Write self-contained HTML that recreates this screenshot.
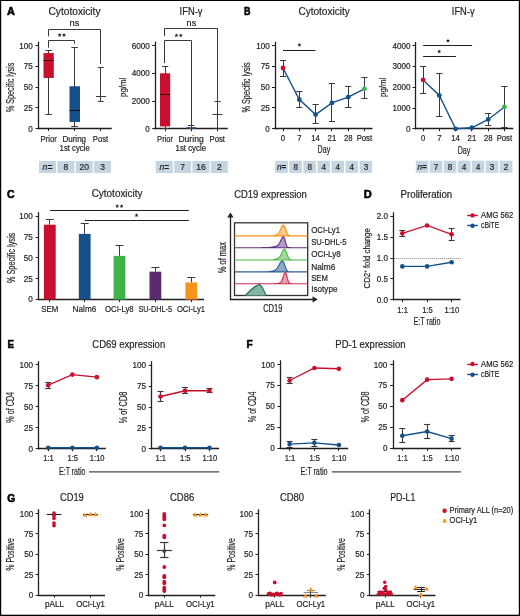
<!DOCTYPE html>
<html><head><meta charset="utf-8"><style>
html,body{margin:0;padding:0;background:#fff;}
svg{display:block;will-change:transform;font-family:"Liberation Sans", sans-serif;}
</style></head><body>
<svg width="520" height="616" viewBox="0 0 520 616">
<rect x="0" y="0" width="520" height="616" fill="#fff"/>
<rect x="0" y="0" width="520" height="1" fill="#000"/><rect x="0" y="0" width="1.2" height="616" fill="#000"/><rect x="518.8" y="0" width="1.2" height="616" fill="#000"/><rect x="0" y="614.7" width="520" height="1.3" fill="#000"/>
<text x="7.1" y="15" font-size="11" text-anchor="start" font-weight="bold" fill="#000" textLength="7.9" lengthAdjust="spacingAndGlyphs" stroke="#000" stroke-width="0.55">A</text>
<text x="48.5" y="15" font-size="10.4" text-anchor="start" font-weight="normal" fill="#231f20" textLength="52" lengthAdjust="spacingAndGlyphs" stroke="#231f20" stroke-width="0.2">Cytotoxicity</text>
<line x1="38.5" y1="41.7" x2="38.5" y2="129.2" stroke="#231f20" stroke-width="1.3"/>
<line x1="35.5" y1="128.5" x2="38.5" y2="128.5" stroke="#231f20" stroke-width="1"/>
<text x="32.8" y="131.55" font-size="8.3" text-anchor="end" font-weight="normal" fill="#231f20" textLength="4.52" lengthAdjust="spacingAndGlyphs" stroke="#231f20" stroke-width="0.2">0</text>
<line x1="35.5" y1="107.5" x2="38.5" y2="107.5" stroke="#231f20" stroke-width="1"/>
<text x="32.8" y="110.8" font-size="8.3" text-anchor="end" font-weight="normal" fill="#231f20" textLength="9.05" lengthAdjust="spacingAndGlyphs" stroke="#231f20" stroke-width="0.2">25</text>
<line x1="35.5" y1="87.5" x2="38.5" y2="87.5" stroke="#231f20" stroke-width="1"/>
<text x="32.8" y="90.05" font-size="8.3" text-anchor="end" font-weight="normal" fill="#231f20" textLength="9.05" lengthAdjust="spacingAndGlyphs" stroke="#231f20" stroke-width="0.2">50</text>
<line x1="35.5" y1="66.5" x2="38.5" y2="66.5" stroke="#231f20" stroke-width="1"/>
<text x="32.8" y="69.3" font-size="8.3" text-anchor="end" font-weight="normal" fill="#231f20" textLength="9.05" lengthAdjust="spacingAndGlyphs" stroke="#231f20" stroke-width="0.2">75</text>
<line x1="35.5" y1="45.5" x2="38.5" y2="45.5" stroke="#231f20" stroke-width="1"/>
<text x="32.8" y="48.55" font-size="8.3" text-anchor="end" font-weight="normal" fill="#231f20" textLength="13.57" lengthAdjust="spacingAndGlyphs" stroke="#231f20" stroke-width="0.2">100</text>
<line x1="37.9" y1="128.5" x2="111.7" y2="128.5" stroke="#231f20" stroke-width="1.3"/>
<line x1="48.5" y1="128.6" x2="48.5" y2="131.1" stroke="#231f20" stroke-width="1"/>
<line x1="74.5" y1="128.6" x2="74.5" y2="131.1" stroke="#231f20" stroke-width="1"/>
<line x1="100.5" y1="128.6" x2="100.5" y2="131.1" stroke="#231f20" stroke-width="1"/>
<text transform="translate(14.1,87.45) rotate(-90)" x="0" y="0" font-size="10" text-anchor="middle" font-weight="normal" fill="#231f20" textLength="49.3" lengthAdjust="spacingAndGlyphs" stroke="#231f20" stroke-width="0.2">% Specific lysis</text>
<text x="40.6" y="141.6" font-size="8.6" text-anchor="start" font-weight="normal" fill="#231f20" textLength="16.3" lengthAdjust="spacingAndGlyphs" stroke="#231f20" stroke-width="0.2">Prior</text>
<text x="62.4" y="141.6" font-size="8.6" text-anchor="start" font-weight="normal" fill="#231f20" textLength="23.7" lengthAdjust="spacingAndGlyphs" stroke="#231f20" stroke-width="0.2">During</text>
<text x="92.8" y="141.6" font-size="8.6" text-anchor="start" font-weight="normal" fill="#231f20" textLength="15.3" lengthAdjust="spacingAndGlyphs" stroke="#231f20" stroke-width="0.2">Post</text>
<text x="59.6" y="151.1" font-size="8.6" text-anchor="start" font-weight="normal" fill="#231f20" textLength="30.2" lengthAdjust="spacingAndGlyphs" stroke="#231f20" stroke-width="0.2">1st cycle</text>
<path d="M48.5,36.4 V29.5 H100.5 V63.9" fill="none" stroke="#3a3a3a" stroke-width="1"/>
<path d="M48.5,47.7 V40.5 H74.5 V43.8" fill="none" stroke="#3a3a3a" stroke-width="1"/>
<text x="69.5" y="26" font-size="9" text-anchor="start" font-weight="normal" fill="#231f20" textLength="9.8" lengthAdjust="spacingAndGlyphs" stroke="#231f20" stroke-width="0.2">ns</text>
<polygon points="59.6,32.9 60.14,34.35 61.69,34.42 60.48,35.39 60.89,36.88 59.6,36.02 58.31,36.88 58.72,35.39 57.51,34.42 59.06,34.35" fill="#231f20"/>
<polygon points="64,32.9 64.54,34.35 66.09,34.42 64.88,35.39 65.29,36.88 64,36.02 62.71,36.88 63.12,35.39 61.91,34.42 63.46,34.35" fill="#231f20"/>
<line x1="48.5" y1="50.58" x2="48.5" y2="114.49" stroke="#3a3a3a" stroke-width="1"/>
<line x1="45.35" y1="50.5" x2="51.85" y2="50.5" stroke="#3a3a3a" stroke-width="1"/>
<line x1="45.35" y1="114.5" x2="51.85" y2="114.5" stroke="#3a3a3a" stroke-width="1"/>
<rect x="43.5" y="53.07" width="10.3" height="24.9" fill="#c8102e" stroke="none" stroke-width="0"/>
<line x1="43.5" y1="60.5" x2="53.8" y2="60.5" stroke="#2a0a0a" stroke-width="1"/>
<line x1="74.5" y1="47.26" x2="74.5" y2="126.94" stroke="#3a3a3a" stroke-width="1"/>
<line x1="71.35" y1="47.5" x2="77.85" y2="47.5" stroke="#3a3a3a" stroke-width="1"/>
<line x1="71.35" y1="126.5" x2="77.85" y2="126.5" stroke="#3a3a3a" stroke-width="1"/>
<rect x="69.5" y="86.27" width="10.5" height="35.69" fill="#165089" stroke="none" stroke-width="0"/>
<line x1="69.5" y1="110.5" x2="80" y2="110.5" stroke="#0a0f1a" stroke-width="1"/>
<line x1="100.5" y1="67.9" x2="100.5" y2="101.4" stroke="#3a3a3a" stroke-width="1"/>
<line x1="97.9" y1="67.5" x2="103.7" y2="67.5" stroke="#3a3a3a" stroke-width="1"/>
<line x1="97.9" y1="101.5" x2="103.7" y2="101.5" stroke="#3a3a3a" stroke-width="1"/>
<line x1="96" y1="96.5" x2="106" y2="96.5" stroke="#3a3a3a" stroke-width="1"/>
<text x="179.6" y="15.1" font-size="10.4" text-anchor="start" font-weight="normal" fill="#231f20" textLength="22.9" lengthAdjust="spacingAndGlyphs" stroke="#231f20" stroke-width="0.2">IFN-γ</text>
<line x1="155.5" y1="41.6" x2="155.5" y2="129.4" stroke="#231f20" stroke-width="1.3"/>
<line x1="152.2" y1="128.5" x2="155.2" y2="128.5" stroke="#231f20" stroke-width="1"/>
<text x="149.8" y="131.75" font-size="8.3" text-anchor="end" font-weight="normal" fill="#231f20" textLength="4.52" lengthAdjust="spacingAndGlyphs" stroke="#231f20" stroke-width="0.2">0</text>
<line x1="152.2" y1="101.5" x2="155.2" y2="101.5" stroke="#231f20" stroke-width="1"/>
<text x="149.8" y="104.05" font-size="8.3" text-anchor="end" font-weight="normal" fill="#231f20" textLength="18.09" lengthAdjust="spacingAndGlyphs" stroke="#231f20" stroke-width="0.2">2000</text>
<line x1="152.2" y1="73.5" x2="155.2" y2="73.5" stroke="#231f20" stroke-width="1"/>
<text x="149.8" y="76.35" font-size="8.3" text-anchor="end" font-weight="normal" fill="#231f20" textLength="18.09" lengthAdjust="spacingAndGlyphs" stroke="#231f20" stroke-width="0.2">4000</text>
<line x1="152.2" y1="45.5" x2="155.2" y2="45.5" stroke="#231f20" stroke-width="1"/>
<text x="149.8" y="48.65" font-size="8.3" text-anchor="end" font-weight="normal" fill="#231f20" textLength="18.09" lengthAdjust="spacingAndGlyphs" stroke="#231f20" stroke-width="0.2">6000</text>
<line x1="154.6" y1="128.5" x2="227.8" y2="128.5" stroke="#231f20" stroke-width="1.3"/>
<line x1="165.5" y1="128.8" x2="165.5" y2="131.3" stroke="#231f20" stroke-width="1"/>
<line x1="191.5" y1="128.8" x2="191.5" y2="131.3" stroke="#231f20" stroke-width="1"/>
<line x1="217.5" y1="128.8" x2="217.5" y2="131.3" stroke="#231f20" stroke-width="1"/>
<text transform="translate(125.5,87.35) rotate(-90)" x="0" y="0" font-size="9.8" text-anchor="middle" font-weight="normal" fill="#231f20" textLength="19.3" lengthAdjust="spacingAndGlyphs" stroke="#231f20" stroke-width="0.2">pg/ml</text>
<text x="157.1" y="141.6" font-size="8.6" text-anchor="start" font-weight="normal" fill="#231f20" textLength="16" lengthAdjust="spacingAndGlyphs" stroke="#231f20" stroke-width="0.2">Prior</text>
<text x="178.4" y="141.6" font-size="8.6" text-anchor="start" font-weight="normal" fill="#231f20" textLength="25.3" lengthAdjust="spacingAndGlyphs" stroke="#231f20" stroke-width="0.2">During</text>
<text x="209.5" y="141.6" font-size="8.6" text-anchor="start" font-weight="normal" fill="#231f20" textLength="15.5" lengthAdjust="spacingAndGlyphs" stroke="#231f20" stroke-width="0.2">Post</text>
<text x="175.6" y="151.1" font-size="8.6" text-anchor="start" font-weight="normal" fill="#231f20" textLength="30.4" lengthAdjust="spacingAndGlyphs" stroke="#231f20" stroke-width="0.2">1st cycle</text>
<path d="M164.5,36.2 V28.5 H217.5 V101.1" fill="none" stroke="#3a3a3a" stroke-width="1"/>
<path d="M164.5,63.1 V40.5 H191.5 V125" fill="none" stroke="#3a3a3a" stroke-width="1"/>
<text x="186.6" y="26.1" font-size="9" text-anchor="start" font-weight="normal" fill="#231f20" textLength="9.6" lengthAdjust="spacingAndGlyphs" stroke="#231f20" stroke-width="0.2">ns</text>
<polygon points="176.4,33.2 176.94,34.65 178.49,34.72 177.28,35.69 177.69,37.18 176.4,36.32 175.11,37.18 175.52,35.69 174.31,34.72 175.86,34.65" fill="#231f20"/>
<polygon points="180.8,33.2 181.34,34.65 182.89,34.72 181.68,35.69 182.09,37.18 180.8,36.32 179.51,37.18 179.92,35.69 178.71,34.72 180.26,34.65" fill="#231f20"/>
<line x1="165.5" y1="66.8" x2="165.5" y2="128.3" stroke="#3a3a3a" stroke-width="1"/>
<line x1="162.1" y1="66.5" x2="168.3" y2="66.5" stroke="#3a3a3a" stroke-width="1"/>
<line x1="162.1" y1="128.5" x2="168.3" y2="128.5" stroke="#3a3a3a" stroke-width="1"/>
<rect x="160" y="73.3" width="10.2" height="53.1" fill="#c8102e" stroke="none" stroke-width="0"/>
<line x1="160" y1="94.5" x2="170.2" y2="94.5" stroke="#2a0a0a" stroke-width="1"/>
<line x1="191.5" y1="125.2" x2="191.5" y2="128.6" stroke="#3a3a3a" stroke-width="1"/>
<line x1="188.05" y1="125.5" x2="194.35" y2="125.5" stroke="#3a3a3a" stroke-width="1"/>
<line x1="188.05" y1="128.5" x2="194.35" y2="128.5" stroke="#3a3a3a" stroke-width="1"/>
<rect x="186.5" y="127.2" width="9.6" height="1.4" fill="#165089" stroke="none" stroke-width="0"/>
<line x1="217.5" y1="101.1" x2="217.5" y2="128.8" stroke="#3a3a3a" stroke-width="1"/>
<line x1="214.5" y1="101.5" x2="220.7" y2="101.5" stroke="#3a3a3a" stroke-width="1"/>
<line x1="212.4" y1="114.5" x2="222.5" y2="114.5" stroke="#3a3a3a" stroke-width="1"/>
<line x1="214.5" y1="128.5" x2="220.7" y2="128.5" stroke="#3a3a3a" stroke-width="1"/>
<rect x="39" y="161" width="17" height="12" fill="#c5d6e2" stroke="none" stroke-width="0"/>
<text x="47.5" y="170.2" font-size="8.55" text-anchor="middle" fill="#231f20" stroke="#231f20" stroke-width="0.2"><tspan font-style="italic">n</tspan><tspan font-weight="bold">=</tspan></text>
<rect x="57.35" y="161" width="17" height="12" fill="#c5d6e2" stroke="none" stroke-width="0"/>
<text x="65.85" y="170.2" font-size="9" text-anchor="middle" font-weight="normal" fill="#231f20" textLength="4.75" lengthAdjust="spacingAndGlyphs" stroke="#231f20" stroke-width="0.2">8</text>
<rect x="75.7" y="161" width="17" height="12" fill="#c5d6e2" stroke="none" stroke-width="0"/>
<text x="84.2" y="170.2" font-size="9" text-anchor="middle" font-weight="normal" fill="#231f20" textLength="9.51" lengthAdjust="spacingAndGlyphs" stroke="#231f20" stroke-width="0.2">20</text>
<rect x="94.05" y="161" width="17" height="12" fill="#c5d6e2" stroke="none" stroke-width="0"/>
<text x="102.55" y="170.2" font-size="9" text-anchor="middle" font-weight="normal" fill="#231f20" textLength="4.75" lengthAdjust="spacingAndGlyphs" stroke="#231f20" stroke-width="0.2">3</text>
<rect x="155.8" y="161" width="17" height="12" fill="#c5d6e2" stroke="none" stroke-width="0"/>
<text x="164.3" y="170.2" font-size="8.55" text-anchor="middle" fill="#231f20" stroke="#231f20" stroke-width="0.2"><tspan font-style="italic">n</tspan><tspan font-weight="bold">=</tspan></text>
<rect x="174.15" y="161" width="17" height="12" fill="#c5d6e2" stroke="none" stroke-width="0"/>
<text x="182.65" y="170.2" font-size="9" text-anchor="middle" font-weight="normal" fill="#231f20" textLength="4.75" lengthAdjust="spacingAndGlyphs" stroke="#231f20" stroke-width="0.2">7</text>
<rect x="192.5" y="161" width="17" height="12" fill="#c5d6e2" stroke="none" stroke-width="0"/>
<text x="201" y="170.2" font-size="9" text-anchor="middle" font-weight="normal" fill="#231f20" textLength="9.51" lengthAdjust="spacingAndGlyphs" stroke="#231f20" stroke-width="0.2">16</text>
<rect x="210.85" y="161" width="17" height="12" fill="#c5d6e2" stroke="none" stroke-width="0"/>
<text x="219.35" y="170.2" font-size="9" text-anchor="middle" font-weight="normal" fill="#231f20" textLength="4.75" lengthAdjust="spacingAndGlyphs" stroke="#231f20" stroke-width="0.2">2</text>
<text x="244" y="14.8" font-size="11" text-anchor="start" font-weight="bold" fill="#000" textLength="6.5" lengthAdjust="spacingAndGlyphs" stroke="#000" stroke-width="0.55">B</text>
<text x="298.4" y="15" font-size="10.4" text-anchor="start" font-weight="normal" fill="#231f20" textLength="51.3" lengthAdjust="spacingAndGlyphs" stroke="#231f20" stroke-width="0.2">Cytotoxicity</text>
<line x1="275.5" y1="41.7" x2="275.5" y2="129.35" stroke="#231f20" stroke-width="1.3"/>
<line x1="272" y1="128.5" x2="275" y2="128.5" stroke="#231f20" stroke-width="1"/>
<text x="269.8" y="131.7" font-size="8.3" text-anchor="end" font-weight="normal" fill="#231f20" textLength="4.52" lengthAdjust="spacingAndGlyphs" stroke="#231f20" stroke-width="0.2">0</text>
<line x1="272" y1="107.5" x2="275" y2="107.5" stroke="#231f20" stroke-width="1"/>
<text x="269.8" y="110.9" font-size="8.3" text-anchor="end" font-weight="normal" fill="#231f20" textLength="9.05" lengthAdjust="spacingAndGlyphs" stroke="#231f20" stroke-width="0.2">25</text>
<line x1="272" y1="87.5" x2="275" y2="87.5" stroke="#231f20" stroke-width="1"/>
<text x="269.8" y="90.1" font-size="8.3" text-anchor="end" font-weight="normal" fill="#231f20" textLength="9.05" lengthAdjust="spacingAndGlyphs" stroke="#231f20" stroke-width="0.2">50</text>
<line x1="272" y1="66.5" x2="275" y2="66.5" stroke="#231f20" stroke-width="1"/>
<text x="269.8" y="69.3" font-size="8.3" text-anchor="end" font-weight="normal" fill="#231f20" textLength="9.05" lengthAdjust="spacingAndGlyphs" stroke="#231f20" stroke-width="0.2">75</text>
<line x1="272" y1="45.5" x2="275" y2="45.5" stroke="#231f20" stroke-width="1"/>
<text x="269.8" y="48.5" font-size="8.3" text-anchor="end" font-weight="normal" fill="#231f20" textLength="13.57" lengthAdjust="spacingAndGlyphs" stroke="#231f20" stroke-width="0.2">100</text>
<line x1="274.4" y1="128.5" x2="372.5" y2="128.5" stroke="#231f20" stroke-width="1.3"/>
<line x1="283.5" y1="128.75" x2="283.5" y2="131.25" stroke="#231f20" stroke-width="1"/>
<line x1="299.5" y1="128.75" x2="299.5" y2="131.25" stroke="#231f20" stroke-width="1"/>
<line x1="315.5" y1="128.75" x2="315.5" y2="131.25" stroke="#231f20" stroke-width="1"/>
<line x1="331.5" y1="128.75" x2="331.5" y2="131.25" stroke="#231f20" stroke-width="1"/>
<line x1="348.5" y1="128.75" x2="348.5" y2="131.25" stroke="#231f20" stroke-width="1"/>
<line x1="364.5" y1="128.75" x2="364.5" y2="131.25" stroke="#231f20" stroke-width="1"/>
<text transform="translate(250.4,87.45) rotate(-90)" x="0" y="0" font-size="10" text-anchor="middle" font-weight="normal" fill="#231f20" textLength="50.1" lengthAdjust="spacingAndGlyphs" stroke="#231f20" stroke-width="0.2">% Specific lysis</text>
<text x="283" y="141.4" font-size="8.4" text-anchor="middle" font-weight="normal" fill="#231f20" textLength="4.3" lengthAdjust="spacingAndGlyphs" stroke="#231f20" stroke-width="0.2">0</text>
<text x="299.3" y="141.4" font-size="8.4" text-anchor="middle" font-weight="normal" fill="#231f20" textLength="4.3" lengthAdjust="spacingAndGlyphs" stroke="#231f20" stroke-width="0.2">7</text>
<text x="315.6" y="141.4" font-size="8.4" text-anchor="middle" font-weight="normal" fill="#231f20" textLength="8.59" lengthAdjust="spacingAndGlyphs" stroke="#231f20" stroke-width="0.2">14</text>
<text x="331.9" y="141.4" font-size="8.4" text-anchor="middle" font-weight="normal" fill="#231f20" textLength="8.59" lengthAdjust="spacingAndGlyphs" stroke="#231f20" stroke-width="0.2">21</text>
<text x="348.2" y="141.4" font-size="8.4" text-anchor="middle" font-weight="normal" fill="#231f20" textLength="8.59" lengthAdjust="spacingAndGlyphs" stroke="#231f20" stroke-width="0.2">28</text>
<text x="364.4" y="141.4" font-size="8.4" text-anchor="middle" font-weight="normal" fill="#231f20" textLength="15.46" lengthAdjust="spacingAndGlyphs" stroke="#231f20" stroke-width="0.2">Post</text>
<text x="323.9" y="153.4" font-size="10" text-anchor="middle" font-weight="normal" fill="#231f20" textLength="12.6" lengthAdjust="spacingAndGlyphs" stroke="#231f20" stroke-width="0.2">Day</text>
<line x1="283" y1="50.5" x2="315.5" y2="50.5" stroke="#231f20" stroke-width="1"/>
<polygon points="299.4,42.8 299.94,44.25 301.49,44.32 300.28,45.29 300.69,46.78 299.4,45.92 298.11,46.78 298.52,45.29 297.31,44.32 298.86,44.25" fill="#231f20"/>
<line x1="283.5" y1="60.53" x2="283.5" y2="76.33" stroke="#3a3a3a" stroke-width="1"/>
<line x1="279.9" y1="60.5" x2="286.1" y2="60.5" stroke="#3a3a3a" stroke-width="1"/>
<line x1="279.9" y1="76.5" x2="286.1" y2="76.5" stroke="#3a3a3a" stroke-width="1"/>
<line x1="299.5" y1="91.31" x2="299.5" y2="107.12" stroke="#3a3a3a" stroke-width="1"/>
<line x1="296.2" y1="91.5" x2="302.4" y2="91.5" stroke="#3a3a3a" stroke-width="1"/>
<line x1="296.2" y1="107.5" x2="302.4" y2="107.5" stroke="#3a3a3a" stroke-width="1"/>
<line x1="315.5" y1="104.62" x2="315.5" y2="123.76" stroke="#3a3a3a" stroke-width="1"/>
<line x1="312.5" y1="104.5" x2="318.7" y2="104.5" stroke="#3a3a3a" stroke-width="1"/>
<line x1="312.5" y1="123.5" x2="318.7" y2="123.5" stroke="#3a3a3a" stroke-width="1"/>
<line x1="331.5" y1="83.82" x2="331.5" y2="121.26" stroke="#3a3a3a" stroke-width="1"/>
<line x1="328.8" y1="83.5" x2="335" y2="83.5" stroke="#3a3a3a" stroke-width="1"/>
<line x1="328.8" y1="121.5" x2="335" y2="121.5" stroke="#3a3a3a" stroke-width="1"/>
<line x1="348.5" y1="86.32" x2="348.5" y2="107.12" stroke="#3a3a3a" stroke-width="1"/>
<line x1="345.1" y1="86.5" x2="351.3" y2="86.5" stroke="#3a3a3a" stroke-width="1"/>
<line x1="345.1" y1="107.5" x2="351.3" y2="107.5" stroke="#3a3a3a" stroke-width="1"/>
<line x1="364.5" y1="78" x2="364.5" y2="98.8" stroke="#3a3a3a" stroke-width="1"/>
<line x1="361.3" y1="77.5" x2="367.5" y2="77.5" stroke="#3a3a3a" stroke-width="1"/>
<line x1="361.3" y1="98.5" x2="367.5" y2="98.5" stroke="#3a3a3a" stroke-width="1"/>
<polyline points="283,68.01 299.3,99.63 315.6,114.61 331.9,102.96 348.2,97.13 364.4,88.81" fill="none" stroke="#165089" stroke-width="1.4"/>
<circle cx="283" cy="68.01" r="2.4" fill="#c8102e"/>
<circle cx="299.3" cy="99.63" r="2.4" fill="#165089"/>
<circle cx="315.6" cy="114.61" r="2.4" fill="#165089"/>
<circle cx="331.9" cy="102.96" r="2.4" fill="#165089"/>
<circle cx="348.2" cy="97.13" r="2.4" fill="#165089"/>
<circle cx="364.4" cy="88.81" r="2.4" fill="#3db44a"/>
<text x="451.8" y="15.1" font-size="10.4" text-anchor="start" font-weight="normal" fill="#231f20" textLength="22.8" lengthAdjust="spacingAndGlyphs" stroke="#231f20" stroke-width="0.2">IFN-γ</text>
<line x1="415.5" y1="42" x2="415.5" y2="129.4" stroke="#231f20" stroke-width="1.3"/>
<line x1="412.5" y1="128.5" x2="415.5" y2="128.5" stroke="#231f20" stroke-width="1"/>
<text x="410.5" y="131.75" font-size="8.3" text-anchor="end" font-weight="normal" fill="#231f20" textLength="4.52" lengthAdjust="spacingAndGlyphs" stroke="#231f20" stroke-width="0.2">0</text>
<line x1="412.5" y1="108.5" x2="415.5" y2="108.5" stroke="#231f20" stroke-width="1"/>
<text x="410.5" y="110.95" font-size="8.3" text-anchor="end" font-weight="normal" fill="#231f20" textLength="18.09" lengthAdjust="spacingAndGlyphs" stroke="#231f20" stroke-width="0.2">1000</text>
<line x1="412.5" y1="87.5" x2="415.5" y2="87.5" stroke="#231f20" stroke-width="1"/>
<text x="410.5" y="90.15" font-size="8.3" text-anchor="end" font-weight="normal" fill="#231f20" textLength="18.09" lengthAdjust="spacingAndGlyphs" stroke="#231f20" stroke-width="0.2">2000</text>
<line x1="412.5" y1="66.5" x2="415.5" y2="66.5" stroke="#231f20" stroke-width="1"/>
<text x="410.5" y="69.35" font-size="8.3" text-anchor="end" font-weight="normal" fill="#231f20" textLength="18.09" lengthAdjust="spacingAndGlyphs" stroke="#231f20" stroke-width="0.2">3000</text>
<line x1="412.5" y1="45.5" x2="415.5" y2="45.5" stroke="#231f20" stroke-width="1"/>
<text x="410.5" y="48.55" font-size="8.3" text-anchor="end" font-weight="normal" fill="#231f20" textLength="18.09" lengthAdjust="spacingAndGlyphs" stroke="#231f20" stroke-width="0.2">4000</text>
<line x1="414.9" y1="128.5" x2="513.3" y2="128.5" stroke="#231f20" stroke-width="1.3"/>
<line x1="423.5" y1="128.8" x2="423.5" y2="131.3" stroke="#231f20" stroke-width="1"/>
<line x1="439.5" y1="128.8" x2="439.5" y2="131.3" stroke="#231f20" stroke-width="1"/>
<line x1="455.5" y1="128.8" x2="455.5" y2="131.3" stroke="#231f20" stroke-width="1"/>
<line x1="471.5" y1="128.8" x2="471.5" y2="131.3" stroke="#231f20" stroke-width="1"/>
<line x1="488.5" y1="128.8" x2="488.5" y2="131.3" stroke="#231f20" stroke-width="1"/>
<line x1="504.5" y1="128.8" x2="504.5" y2="131.3" stroke="#231f20" stroke-width="1"/>
<text transform="translate(385.8,87.35) rotate(-90)" x="0" y="0" font-size="9.8" text-anchor="middle" font-weight="normal" fill="#231f20" textLength="19.3" lengthAdjust="spacingAndGlyphs" stroke="#231f20" stroke-width="0.2">pg/ml</text>
<text x="423.1" y="141.4" font-size="8.4" text-anchor="middle" font-weight="normal" fill="#231f20" textLength="4.3" lengthAdjust="spacingAndGlyphs" stroke="#231f20" stroke-width="0.2">0</text>
<text x="439.3" y="141.4" font-size="8.4" text-anchor="middle" font-weight="normal" fill="#231f20" textLength="4.3" lengthAdjust="spacingAndGlyphs" stroke="#231f20" stroke-width="0.2">7</text>
<text x="455.6" y="141.4" font-size="8.4" text-anchor="middle" font-weight="normal" fill="#231f20" textLength="8.59" lengthAdjust="spacingAndGlyphs" stroke="#231f20" stroke-width="0.2">14</text>
<text x="471.9" y="141.4" font-size="8.4" text-anchor="middle" font-weight="normal" fill="#231f20" textLength="8.59" lengthAdjust="spacingAndGlyphs" stroke="#231f20" stroke-width="0.2">21</text>
<text x="488.2" y="141.4" font-size="8.4" text-anchor="middle" font-weight="normal" fill="#231f20" textLength="8.59" lengthAdjust="spacingAndGlyphs" stroke="#231f20" stroke-width="0.2">28</text>
<text x="504.4" y="141.4" font-size="8.4" text-anchor="middle" font-weight="normal" fill="#231f20" textLength="15.46" lengthAdjust="spacingAndGlyphs" stroke="#231f20" stroke-width="0.2">Post</text>
<text x="464" y="153.9" font-size="10" text-anchor="middle" font-weight="normal" fill="#231f20" textLength="12.6" lengthAdjust="spacingAndGlyphs" stroke="#231f20" stroke-width="0.2">Day</text>
<line x1="423.1" y1="45.5" x2="472.1" y2="45.5" stroke="#231f20" stroke-width="1"/>
<polygon points="448,38.6 448.54,40.05 450.09,40.12 448.88,41.09 449.29,42.58 448,41.72 446.71,42.58 447.12,41.09 445.91,40.12 447.46,40.05" fill="#231f20"/>
<line x1="423.1" y1="56.5" x2="455.9" y2="56.5" stroke="#231f20" stroke-width="1"/>
<polygon points="439.2,49.3 439.74,50.75 441.29,50.82 440.08,51.79 440.49,53.28 439.2,52.42 437.91,53.28 438.32,51.79 437.11,50.82 438.66,50.75" fill="#231f20"/>
<line x1="423.5" y1="66.4" x2="423.5" y2="93.44" stroke="#3a3a3a" stroke-width="1"/>
<line x1="420" y1="66.5" x2="426.2" y2="66.5" stroke="#3a3a3a" stroke-width="1"/>
<line x1="420" y1="93.5" x2="426.2" y2="93.5" stroke="#3a3a3a" stroke-width="1"/>
<line x1="439.5" y1="73.68" x2="439.5" y2="116.94" stroke="#3a3a3a" stroke-width="1"/>
<line x1="436.2" y1="73.5" x2="442.4" y2="73.5" stroke="#3a3a3a" stroke-width="1"/>
<line x1="436.2" y1="116.5" x2="442.4" y2="116.5" stroke="#3a3a3a" stroke-width="1"/>
<line x1="488.5" y1="113.2" x2="488.5" y2="125.68" stroke="#3a3a3a" stroke-width="1"/>
<line x1="485.1" y1="113.5" x2="491.3" y2="113.5" stroke="#3a3a3a" stroke-width="1"/>
<line x1="485.1" y1="125.5" x2="491.3" y2="125.5" stroke="#3a3a3a" stroke-width="1"/>
<line x1="504.5" y1="86.78" x2="504.5" y2="127.76" stroke="#3a3a3a" stroke-width="1"/>
<line x1="501.3" y1="86.5" x2="507.5" y2="86.5" stroke="#3a3a3a" stroke-width="1"/>
<line x1="501.3" y1="127.5" x2="507.5" y2="127.5" stroke="#3a3a3a" stroke-width="1"/>
<polyline points="423.1,79.92 439.3,95.52 455.6,128.8 471.9,127.76 488.2,119.44 504.4,106.96" fill="none" stroke="#165089" stroke-width="1.4"/>
<circle cx="423.1" cy="79.92" r="2.4" fill="#c8102e"/>
<circle cx="439.3" cy="95.52" r="2.4" fill="#165089"/>
<circle cx="455.6" cy="128.8" r="2.4" fill="#165089"/>
<circle cx="471.9" cy="127.76" r="2.4" fill="#165089"/>
<circle cx="488.2" cy="119.44" r="2.4" fill="#165089"/>
<circle cx="504.4" cy="106.96" r="2.4" fill="#3db44a"/>
<rect x="275.3" y="160.8" width="12.6" height="12.1" fill="#c5d6e2" stroke="none" stroke-width="0"/>
<text x="281.6" y="169.9" font-size="8.17" text-anchor="middle" fill="#231f20" stroke="#231f20" stroke-width="0.2"><tspan font-style="italic">n</tspan><tspan font-weight="bold">=</tspan></text>
<rect x="289.35" y="160.8" width="12.6" height="12.1" fill="#c5d6e2" stroke="none" stroke-width="0"/>
<text x="295.65" y="169.9" font-size="8.6" text-anchor="middle" font-weight="normal" fill="#231f20" textLength="4.54" lengthAdjust="spacingAndGlyphs" stroke="#231f20" stroke-width="0.2">8</text>
<rect x="303.4" y="160.8" width="12.6" height="12.1" fill="#c5d6e2" stroke="none" stroke-width="0"/>
<text x="309.7" y="169.9" font-size="8.6" text-anchor="middle" font-weight="normal" fill="#231f20" textLength="4.54" lengthAdjust="spacingAndGlyphs" stroke="#231f20" stroke-width="0.2">8</text>
<rect x="317.45" y="160.8" width="12.6" height="12.1" fill="#c5d6e2" stroke="none" stroke-width="0"/>
<text x="323.75" y="169.9" font-size="8.6" text-anchor="middle" font-weight="normal" fill="#231f20" textLength="4.54" lengthAdjust="spacingAndGlyphs" stroke="#231f20" stroke-width="0.2">4</text>
<rect x="331.5" y="160.8" width="12.6" height="12.1" fill="#c5d6e2" stroke="none" stroke-width="0"/>
<text x="337.8" y="169.9" font-size="8.6" text-anchor="middle" font-weight="normal" fill="#231f20" textLength="4.54" lengthAdjust="spacingAndGlyphs" stroke="#231f20" stroke-width="0.2">4</text>
<rect x="345.55" y="160.8" width="12.6" height="12.1" fill="#c5d6e2" stroke="none" stroke-width="0"/>
<text x="351.85" y="169.9" font-size="8.6" text-anchor="middle" font-weight="normal" fill="#231f20" textLength="4.54" lengthAdjust="spacingAndGlyphs" stroke="#231f20" stroke-width="0.2">4</text>
<rect x="359.6" y="160.8" width="12.6" height="12.1" fill="#c5d6e2" stroke="none" stroke-width="0"/>
<text x="365.9" y="169.9" font-size="8.6" text-anchor="middle" font-weight="normal" fill="#231f20" textLength="4.54" lengthAdjust="spacingAndGlyphs" stroke="#231f20" stroke-width="0.2">3</text>
<rect x="415.8" y="160.7" width="12.6" height="12.1" fill="#c5d6e2" stroke="none" stroke-width="0"/>
<text x="422.1" y="169.9" font-size="8.17" text-anchor="middle" fill="#231f20" stroke="#231f20" stroke-width="0.2"><tspan font-style="italic">n</tspan><tspan font-weight="bold">=</tspan></text>
<rect x="429.8" y="160.7" width="12.6" height="12.1" fill="#c5d6e2" stroke="none" stroke-width="0"/>
<text x="436.1" y="169.9" font-size="8.6" text-anchor="middle" font-weight="normal" fill="#231f20" textLength="4.54" lengthAdjust="spacingAndGlyphs" stroke="#231f20" stroke-width="0.2">7</text>
<rect x="443.8" y="160.7" width="12.6" height="12.1" fill="#c5d6e2" stroke="none" stroke-width="0"/>
<text x="450.1" y="169.9" font-size="8.6" text-anchor="middle" font-weight="normal" fill="#231f20" textLength="4.54" lengthAdjust="spacingAndGlyphs" stroke="#231f20" stroke-width="0.2">8</text>
<rect x="457.8" y="160.7" width="12.6" height="12.1" fill="#c5d6e2" stroke="none" stroke-width="0"/>
<text x="464.1" y="169.9" font-size="8.6" text-anchor="middle" font-weight="normal" fill="#231f20" textLength="4.54" lengthAdjust="spacingAndGlyphs" stroke="#231f20" stroke-width="0.2">4</text>
<rect x="471.8" y="160.7" width="12.6" height="12.1" fill="#c5d6e2" stroke="none" stroke-width="0"/>
<text x="478.1" y="169.9" font-size="8.6" text-anchor="middle" font-weight="normal" fill="#231f20" textLength="4.54" lengthAdjust="spacingAndGlyphs" stroke="#231f20" stroke-width="0.2">4</text>
<rect x="485.8" y="160.7" width="12.6" height="12.1" fill="#c5d6e2" stroke="none" stroke-width="0"/>
<text x="492.1" y="169.9" font-size="8.6" text-anchor="middle" font-weight="normal" fill="#231f20" textLength="4.54" lengthAdjust="spacingAndGlyphs" stroke="#231f20" stroke-width="0.2">3</text>
<rect x="499.8" y="160.7" width="12.6" height="12.1" fill="#c5d6e2" stroke="none" stroke-width="0"/>
<text x="506.1" y="169.9" font-size="8.6" text-anchor="middle" font-weight="normal" fill="#231f20" textLength="4.54" lengthAdjust="spacingAndGlyphs" stroke="#231f20" stroke-width="0.2">2</text>
<text x="7" y="197.5" font-size="11" text-anchor="start" font-weight="bold" fill="#000" textLength="7.6" lengthAdjust="spacingAndGlyphs" stroke="#000" stroke-width="0.55">C</text>
<text x="91.7" y="197.3" font-size="10.4" text-anchor="start" font-weight="normal" fill="#231f20" textLength="50.8" lengthAdjust="spacingAndGlyphs" stroke="#231f20" stroke-width="0.2">Cytotoxicity</text>
<line x1="38.5" y1="212.2" x2="38.5" y2="300.1" stroke="#231f20" stroke-width="1.3"/>
<line x1="35.7" y1="299.5" x2="38.7" y2="299.5" stroke="#231f20" stroke-width="1"/>
<text x="32.8" y="302.45" font-size="8.3" text-anchor="end" font-weight="normal" fill="#231f20" textLength="4.52" lengthAdjust="spacingAndGlyphs" stroke="#231f20" stroke-width="0.2">0</text>
<line x1="35.7" y1="278.5" x2="38.7" y2="278.5" stroke="#231f20" stroke-width="1"/>
<text x="32.8" y="281.68" font-size="8.3" text-anchor="end" font-weight="normal" fill="#231f20" textLength="9.05" lengthAdjust="spacingAndGlyphs" stroke="#231f20" stroke-width="0.2">25</text>
<line x1="35.7" y1="257.5" x2="38.7" y2="257.5" stroke="#231f20" stroke-width="1"/>
<text x="32.8" y="260.9" font-size="8.3" text-anchor="end" font-weight="normal" fill="#231f20" textLength="9.05" lengthAdjust="spacingAndGlyphs" stroke="#231f20" stroke-width="0.2">50</text>
<line x1="35.7" y1="237.5" x2="38.7" y2="237.5" stroke="#231f20" stroke-width="1"/>
<text x="32.8" y="240.12" font-size="8.3" text-anchor="end" font-weight="normal" fill="#231f20" textLength="9.05" lengthAdjust="spacingAndGlyphs" stroke="#231f20" stroke-width="0.2">75</text>
<line x1="35.7" y1="216.5" x2="38.7" y2="216.5" stroke="#231f20" stroke-width="1"/>
<text x="32.8" y="219.35" font-size="8.3" text-anchor="end" font-weight="normal" fill="#231f20" textLength="13.57" lengthAdjust="spacingAndGlyphs" stroke="#231f20" stroke-width="0.2">100</text>
<line x1="38.1" y1="299.5" x2="204" y2="299.5" stroke="#231f20" stroke-width="1.3"/>
<line x1="49.5" y1="299.6" x2="49.5" y2="302.1" stroke="#231f20" stroke-width="1"/>
<line x1="84.5" y1="299.6" x2="84.5" y2="302.1" stroke="#231f20" stroke-width="1"/>
<line x1="119.5" y1="299.6" x2="119.5" y2="302.1" stroke="#231f20" stroke-width="1"/>
<line x1="155.5" y1="299.6" x2="155.5" y2="302.1" stroke="#231f20" stroke-width="1"/>
<line x1="191.5" y1="299.6" x2="191.5" y2="302.1" stroke="#231f20" stroke-width="1"/>
<text transform="translate(14.5,257.9) rotate(-90)" x="0" y="0" font-size="10" text-anchor="middle" font-weight="normal" fill="#231f20" textLength="50.2" lengthAdjust="spacingAndGlyphs" stroke="#231f20" stroke-width="0.2">% Specific lysis</text>
<text x="41.2" y="312" font-size="9.2" text-anchor="start" font-weight="normal" fill="#231f20" textLength="17.1" lengthAdjust="spacingAndGlyphs" stroke="#231f20" stroke-width="0.2">SEM</text>
<text x="72.6" y="312" font-size="9.2" text-anchor="start" font-weight="normal" fill="#231f20" textLength="23.7" lengthAdjust="spacingAndGlyphs" stroke="#231f20" stroke-width="0.2">Nalm6</text>
<text x="105" y="312" font-size="9.2" text-anchor="start" font-weight="normal" fill="#231f20" textLength="28.7" lengthAdjust="spacingAndGlyphs" stroke="#231f20" stroke-width="0.2">OCI-Ly8</text>
<text x="138.4" y="312" font-size="9.2" text-anchor="start" font-weight="normal" fill="#231f20" textLength="33.8" lengthAdjust="spacingAndGlyphs" stroke="#231f20" stroke-width="0.2">SU-DHL-5</text>
<text x="176.9" y="312" font-size="9.2" text-anchor="start" font-weight="normal" fill="#231f20" textLength="28.1" lengthAdjust="spacingAndGlyphs" stroke="#231f20" stroke-width="0.2">OCI-Ly1</text>
<line x1="49.5" y1="219.72" x2="49.5" y2="224.71" stroke="#3a3a3a" stroke-width="1"/>
<line x1="45.8" y1="219.5" x2="53.8" y2="219.5" stroke="#3a3a3a" stroke-width="1"/>
<rect x="43.9" y="224.71" width="11.8" height="74.79" fill="#c8102e" stroke="none" stroke-width="0"/>
<line x1="84.5" y1="223.88" x2="84.5" y2="233.85" stroke="#3a3a3a" stroke-width="1"/>
<line x1="80.7" y1="223.5" x2="88.7" y2="223.5" stroke="#3a3a3a" stroke-width="1"/>
<rect x="78.8" y="233.85" width="11.8" height="65.65" fill="#165089" stroke="none" stroke-width="0"/>
<line x1="119.5" y1="245.49" x2="119.5" y2="255.87" stroke="#3a3a3a" stroke-width="1"/>
<line x1="115.5" y1="245.5" x2="123.5" y2="245.5" stroke="#3a3a3a" stroke-width="1"/>
<rect x="113.6" y="255.87" width="11.8" height="43.63" fill="#3db44a" stroke="none" stroke-width="0"/>
<line x1="155.5" y1="267.09" x2="155.5" y2="271.66" stroke="#3a3a3a" stroke-width="1"/>
<line x1="151.4" y1="267.5" x2="159.4" y2="267.5" stroke="#3a3a3a" stroke-width="1"/>
<rect x="149.5" y="271.66" width="11.8" height="27.84" fill="#5c2a6e" stroke="none" stroke-width="0"/>
<line x1="191.5" y1="277.89" x2="191.5" y2="282.46" stroke="#3a3a3a" stroke-width="1"/>
<line x1="187.3" y1="277.5" x2="195.3" y2="277.5" stroke="#3a3a3a" stroke-width="1"/>
<rect x="185.4" y="282.46" width="11.8" height="17.04" fill="#f7941d" stroke="none" stroke-width="0"/>
<line x1="50.1" y1="210.5" x2="188.8" y2="210.5" stroke="#231f20" stroke-width="1"/>
<line x1="85" y1="220.5" x2="188.8" y2="220.5" stroke="#231f20" stroke-width="1"/>
<polygon points="117.2,204 117.74,205.45 119.29,205.52 118.08,206.49 118.49,207.98 117.2,207.12 115.91,207.98 116.32,206.49 115.11,205.52 116.66,205.45" fill="#231f20"/>
<polygon points="121.6,204 122.14,205.45 123.69,205.52 122.48,206.49 122.89,207.98 121.6,207.12 120.31,207.98 120.72,206.49 119.51,205.52 121.06,205.45" fill="#231f20"/>
<polygon points="136.5,213.2 137.02,214.59 138.5,214.65 137.34,215.57 137.73,217 136.5,216.18 135.27,217 135.66,215.57 134.5,214.65 135.98,214.59" fill="#231f20"/>
<text x="234.2" y="198" font-size="10.4" text-anchor="start" font-weight="normal" fill="#231f20" textLength="72.6" lengthAdjust="spacingAndGlyphs" stroke="#231f20" stroke-width="0.2">CD19 expression</text>
<rect x="234.5" y="222.8" width="73.2" height="72.7" fill="none" stroke="#333" stroke-width="1.3"/>
<line x1="230.5" y1="299.6" x2="230.5" y2="216" stroke="#231f20" stroke-width="1.3"/>
<path d="M230.4,212.4 L227.2,217.6 L233.6,217.6 Z" fill="#231f20" stroke="none" stroke-width="1"/>
<line x1="229.8" y1="299.5" x2="313" y2="299.5" stroke="#231f20" stroke-width="1.3"/>
<path d="M317.8,299.4 L312.6,296.2 L312.6,302.6 Z" fill="#231f20" stroke="none" stroke-width="1"/>
<text transform="translate(226,257.65) rotate(-90)" x="0" y="0" font-size="10.2" text-anchor="middle" font-weight="normal" fill="#231f20" textLength="31.3" lengthAdjust="spacingAndGlyphs" stroke="#231f20" stroke-width="0.2">% of max</text>
<text x="263.2" y="311.7" font-size="10.2" text-anchor="start" font-weight="normal" fill="#231f20" textLength="19.2" lengthAdjust="spacingAndGlyphs" stroke="#231f20" stroke-width="0.2">CD19</text>
<path d="M234.6,235.9 L235,235.9 L235.4,235.9 L235.8,235.9 L236.2,235.9 L236.6,235.9 L237,235.9 L237.4,235.9 L237.8,235.9 L238.2,235.9 L238.6,235.9 L239,235.9 L239.4,235.9 L239.8,235.9 L240.2,235.9 L240.6,235.9 L241,235.9 L241.4,235.9 L241.8,235.9 L242.2,235.9 L242.6,235.9 L243,235.9 L243.4,235.9 L243.8,235.9 L244.2,235.9 L244.6,235.9 L245,235.9 L245.4,235.9 L245.8,235.9 L246.2,235.9 L246.6,235.9 L247,235.9 L247.4,235.9 L247.8,235.9 L248.2,235.9 L248.6,235.9 L249,235.9 L249.4,235.9 L249.8,235.9 L250.2,235.9 L250.6,235.9 L251,235.9 L251.4,235.9 L251.8,235.9 L252.2,235.9 L252.6,235.9 L253,235.9 L253.4,235.9 L253.8,235.9 L254.2,235.9 L254.6,235.9 L255,235.9 L255.4,235.9 L255.8,235.9 L256.2,235.9 L256.6,235.9 L257,235.9 L257.4,235.9 L257.8,235.9 L258.2,235.9 L258.6,235.9 L259,235.9 L259.4,235.9 L259.8,235.9 L260.2,235.9 L260.6,235.9 L261,235.9 L261.4,235.9 L261.8,235.9 L262.2,235.9 L262.6,235.9 L263,235.9 L263.4,235.9 L263.8,235.9 L264.2,235.9 L264.6,235.9 L265,235.9 L265.4,235.9 L265.8,235.9 L266.2,235.9 L266.6,235.9 L267,235.9 L267.4,235.9 L267.8,235.9 L268.2,235.89 L268.6,235.89 L269,235.89 L269.4,235.88 L269.8,235.87 L270.2,235.86 L270.6,235.85 L271,235.84 L271.4,235.81 L271.8,235.79 L272.2,235.75 L272.6,235.71 L273,235.66 L273.4,235.6 L273.8,235.53 L274.2,235.44 L274.6,235.35 L275,235.24 L275.4,235.11 L275.8,234.97 L276.2,234.8 L276.6,234.6 L277,234.38 L277.4,234.11 L277.8,233.79 L278.2,233.4 L278.6,232.94 L279,232.4 L279.4,231.77 L279.8,231.05 L280.2,230.25 L280.6,229.4 L281,228.52 L281.4,227.66 L281.8,226.86 L282.2,226.17 L282.6,225.64 L283,225.31 L283.4,225.2 L283.8,225.35 L284.2,225.79 L284.6,226.51 L285,227.45 L285.4,228.54 L285.8,229.68 L286.2,230.82 L286.6,231.87 L287,232.81 L287.4,233.61 L287.8,234.26 L288.2,234.76 L288.6,235.13 L289,235.4 L289.4,235.58 L289.8,235.71 L290.2,235.79 L290.6,235.83 L291,235.86 L291.4,235.88 L291.8,235.89 L292.2,235.89 L292.6,235.9 L293,235.9 L293.4,235.9 L293.8,235.9 L294.2,235.9 L294.6,235.9 L295,235.9 L295.4,235.9 L295.8,235.9 L296.2,235.9 L296.6,235.9 L297,235.9 L297.4,235.9 L297.8,235.9 L298.2,235.9 L298.6,235.9 L299,235.9 L299.4,235.9 L299.8,235.9 L300.2,235.9 L300.6,235.9 L301,235.9 L301.4,235.9 L301.8,235.9 L302.2,235.9 L302.6,235.9 L303,235.9 L303.4,235.9 L303.8,235.9 L304.2,235.9 L304.6,235.9 L305,235.9 L305.4,235.9 L305.8,235.9 L306.2,235.9 L306.6,235.9 L307,235.9 L307.4,235.9 Z" fill="#fbc98a" stroke="#f7941d" stroke-width="1.15"/>
<path d="M234.6,247.7 L235,247.7 L235.4,247.7 L235.8,247.7 L236.2,247.7 L236.6,247.7 L237,247.7 L237.4,247.7 L237.8,247.7 L238.2,247.7 L238.6,247.7 L239,247.7 L239.4,247.7 L239.8,247.7 L240.2,247.7 L240.6,247.7 L241,247.7 L241.4,247.7 L241.8,247.7 L242.2,247.7 L242.6,247.7 L243,247.7 L243.4,247.7 L243.8,247.7 L244.2,247.7 L244.6,247.7 L245,247.7 L245.4,247.7 L245.8,247.7 L246.2,247.7 L246.6,247.7 L247,247.7 L247.4,247.7 L247.8,247.7 L248.2,247.7 L248.6,247.7 L249,247.7 L249.4,247.7 L249.8,247.7 L250.2,247.7 L250.6,247.7 L251,247.7 L251.4,247.7 L251.8,247.7 L252.2,247.7 L252.6,247.7 L253,247.7 L253.4,247.7 L253.8,247.7 L254.2,247.7 L254.6,247.7 L255,247.7 L255.4,247.7 L255.8,247.7 L256.2,247.7 L256.6,247.7 L257,247.7 L257.4,247.7 L257.8,247.7 L258.2,247.7 L258.6,247.7 L259,247.7 L259.4,247.7 L259.8,247.7 L260.2,247.7 L260.6,247.7 L261,247.7 L261.4,247.7 L261.8,247.7 L262.2,247.69 L262.6,247.69 L263,247.69 L263.4,247.69 L263.8,247.69 L264.2,247.68 L264.6,247.68 L265,247.67 L265.4,247.66 L265.8,247.66 L266.2,247.65 L266.6,247.63 L267,247.62 L267.4,247.6 L267.8,247.58 L268.2,247.56 L268.6,247.53 L269,247.5 L269.4,247.47 L269.8,247.43 L270.2,247.39 L270.6,247.35 L271,247.3 L271.4,247.24 L271.8,247.19 L272.2,247.12 L272.6,247.06 L273,246.99 L273.4,246.92 L273.8,246.84 L274.2,246.76 L274.6,246.68 L275,246.58 L275.4,246.48 L275.8,246.36 L276.2,246.22 L276.6,246.05 L277,245.84 L277.4,245.59 L277.8,245.27 L278.2,244.87 L278.6,244.4 L279,243.83 L279.4,243.18 L279.8,242.47 L280.2,241.69 L280.6,240.87 L281,240.04 L281.4,239.23 L281.8,238.49 L282.2,237.85 L282.6,237.35 L283,237.02 L283.4,236.9 L283.8,237.03 L284.2,237.67 L284.6,238.75 L285,240.14 L285.4,241.65 L285.8,243.12 L286.2,244.41 L286.6,245.46 L287,246.26 L287.4,246.82 L287.8,247.19 L288.2,247.42 L288.6,247.55 L289,247.63 L289.4,247.67 L289.8,247.68 L290.2,247.69 L290.6,247.7 L291,247.7 L291.4,247.7 L291.8,247.7 L292.2,247.7 L292.6,247.7 L293,247.7 L293.4,247.7 L293.8,247.7 L294.2,247.7 L294.6,247.7 L295,247.7 L295.4,247.7 L295.8,247.7 L296.2,247.7 L296.6,247.7 L297,247.7 L297.4,247.7 L297.8,247.7 L298.2,247.7 L298.6,247.7 L299,247.7 L299.4,247.7 L299.8,247.7 L300.2,247.7 L300.6,247.7 L301,247.7 L301.4,247.7 L301.8,247.7 L302.2,247.7 L302.6,247.7 L303,247.7 L303.4,247.7 L303.8,247.7 L304.2,247.7 L304.6,247.7 L305,247.7 L305.4,247.7 L305.8,247.7 L306.2,247.7 L306.6,247.7 L307,247.7 L307.4,247.7 Z" fill="#b09cc4" stroke="#5e2f7a" stroke-width="1.15"/>
<path d="M234.6,260 L235,260 L235.4,260 L235.8,260 L236.2,260 L236.6,260 L237,260 L237.4,260 L237.8,260 L238.2,260 L238.6,260 L239,260 L239.4,260 L239.8,260 L240.2,260 L240.6,260 L241,260 L241.4,260 L241.8,260 L242.2,260 L242.6,260 L243,260 L243.4,260 L243.8,260 L244.2,260 L244.6,260 L245,260 L245.4,260 L245.8,260 L246.2,260 L246.6,260 L247,260 L247.4,260 L247.8,260 L248.2,260 L248.6,260 L249,260 L249.4,260 L249.8,260 L250.2,260 L250.6,260 L251,260 L251.4,260 L251.8,260 L252.2,260 L252.6,260 L253,260 L253.4,260 L253.8,260 L254.2,260 L254.6,260 L255,260 L255.4,260 L255.8,260 L256.2,260 L256.6,260 L257,260 L257.4,260 L257.8,260 L258.2,260 L258.6,260 L259,260 L259.4,260 L259.8,260 L260.2,260 L260.6,260 L261,260 L261.4,260 L261.8,260 L262.2,260 L262.6,260 L263,260 L263.4,260 L263.8,260 L264.2,260 L264.6,260 L265,260 L265.4,260 L265.8,260 L266.2,260 L266.6,260 L267,260 L267.4,260 L267.8,260 L268.2,260 L268.6,259.99 L269,259.99 L269.4,259.99 L269.8,259.98 L270.2,259.97 L270.6,259.96 L271,259.95 L271.4,259.93 L271.8,259.9 L272.2,259.87 L272.6,259.83 L273,259.78 L273.4,259.72 L273.8,259.65 L274.2,259.57 L274.6,259.47 L275,259.36 L275.4,259.24 L275.8,259.1 L276.2,258.95 L276.6,258.79 L277,258.61 L277.4,258.42 L277.8,258.2 L278.2,257.96 L278.6,257.68 L279,257.36 L279.4,256.97 L279.8,256.52 L280.2,255.98 L280.6,255.35 L281,254.63 L281.4,253.84 L281.8,252.99 L282.2,252.13 L282.6,251.28 L283,250.52 L283.4,249.88 L283.8,249.43 L284.2,249.2 L284.6,249.23 L285,249.52 L285.4,250.09 L285.8,250.89 L286.2,251.86 L286.6,252.93 L287,254.04 L287.4,255.12 L287.8,256.12 L288.2,257.01 L288.6,257.76 L289,258.37 L289.4,258.85 L289.8,259.21 L290.2,259.48 L290.6,259.66 L291,259.79 L291.4,259.87 L291.8,259.92 L292.2,259.96 L292.6,259.98 L293,259.99 L293.4,259.99 L293.8,260 L294.2,260 L294.6,260 L295,260 L295.4,260 L295.8,260 L296.2,260 L296.6,260 L297,260 L297.4,260 L297.8,260 L298.2,260 L298.6,260 L299,260 L299.4,260 L299.8,260 L300.2,260 L300.6,260 L301,260 L301.4,260 L301.8,260 L302.2,260 L302.6,260 L303,260 L303.4,260 L303.8,260 L304.2,260 L304.6,260 L305,260 L305.4,260 L305.8,260 L306.2,260 L306.6,260 L307,260 L307.4,260 Z" fill="#a6d8a0" stroke="#4cb749" stroke-width="1.15"/>
<path d="M234.6,271.9 L235,271.9 L235.4,271.9 L235.8,271.9 L236.2,271.9 L236.6,271.9 L237,271.9 L237.4,271.9 L237.8,271.9 L238.2,271.9 L238.6,271.9 L239,271.9 L239.4,271.9 L239.8,271.9 L240.2,271.9 L240.6,271.9 L241,271.9 L241.4,271.9 L241.8,271.9 L242.2,271.9 L242.6,271.9 L243,271.9 L243.4,271.9 L243.8,271.9 L244.2,271.9 L244.6,271.9 L245,271.9 L245.4,271.9 L245.8,271.9 L246.2,271.9 L246.6,271.9 L247,271.9 L247.4,271.9 L247.8,271.9 L248.2,271.9 L248.6,271.9 L249,271.9 L249.4,271.9 L249.8,271.9 L250.2,271.9 L250.6,271.9 L251,271.9 L251.4,271.9 L251.8,271.9 L252.2,271.9 L252.6,271.9 L253,271.9 L253.4,271.9 L253.8,271.9 L254.2,271.9 L254.6,271.9 L255,271.9 L255.4,271.9 L255.8,271.9 L256.2,271.9 L256.6,271.9 L257,271.9 L257.4,271.9 L257.8,271.9 L258.2,271.9 L258.6,271.9 L259,271.9 L259.4,271.9 L259.8,271.9 L260.2,271.9 L260.6,271.9 L261,271.89 L261.4,271.89 L261.8,271.89 L262.2,271.89 L262.6,271.88 L263,271.88 L263.4,271.87 L263.8,271.87 L264.2,271.86 L264.6,271.85 L265,271.84 L265.4,271.83 L265.8,271.81 L266.2,271.8 L266.6,271.78 L267,271.76 L267.4,271.73 L267.8,271.7 L268.2,271.67 L268.6,271.64 L269,271.6 L269.4,271.56 L269.8,271.51 L270.2,271.47 L270.6,271.41 L271,271.35 L271.4,271.29 L271.8,271.21 L272.2,271.13 L272.6,271.04 L273,270.93 L273.4,270.81 L273.8,270.66 L274.2,270.49 L274.6,270.29 L275,270.05 L275.4,269.76 L275.8,269.43 L276.2,269.05 L276.6,268.61 L277,268.1 L277.4,267.55 L277.8,266.96 L278.2,266.33 L278.6,265.67 L279,264.99 L279.4,264.31 L279.8,263.65 L280.2,263.03 L280.6,262.46 L281,261.96 L281.4,261.56 L281.8,261.28 L282.2,261.12 L282.6,261.1 L283,261.32 L283.4,261.86 L283.8,262.67 L284.2,263.69 L284.6,264.84 L285,266.02 L285.4,267.16 L285.8,268.2 L286.2,269.11 L286.6,269.86 L287,270.46 L287.4,270.92 L287.8,271.25 L288.2,271.48 L288.6,271.64 L289,271.75 L289.4,271.81 L289.8,271.85 L290.2,271.87 L290.6,271.89 L291,271.89 L291.4,271.9 L291.8,271.9 L292.2,271.9 L292.6,271.9 L293,271.9 L293.4,271.9 L293.8,271.9 L294.2,271.9 L294.6,271.9 L295,271.9 L295.4,271.9 L295.8,271.9 L296.2,271.9 L296.6,271.9 L297,271.9 L297.4,271.9 L297.8,271.9 L298.2,271.9 L298.6,271.9 L299,271.9 L299.4,271.9 L299.8,271.9 L300.2,271.9 L300.6,271.9 L301,271.9 L301.4,271.9 L301.8,271.9 L302.2,271.9 L302.6,271.9 L303,271.9 L303.4,271.9 L303.8,271.9 L304.2,271.9 L304.6,271.9 L305,271.9 L305.4,271.9 L305.8,271.9 L306.2,271.9 L306.6,271.9 L307,271.9 L307.4,271.9 Z" fill="#8eaac8" stroke="#2f5f96" stroke-width="1.15"/>
<path d="M234.6,283.7 L235,283.7 L235.4,283.7 L235.8,283.7 L236.2,283.7 L236.6,283.7 L237,283.7 L237.4,283.7 L237.8,283.7 L238.2,283.7 L238.6,283.7 L239,283.7 L239.4,283.7 L239.8,283.7 L240.2,283.7 L240.6,283.7 L241,283.7 L241.4,283.7 L241.8,283.7 L242.2,283.7 L242.6,283.7 L243,283.7 L243.4,283.7 L243.8,283.7 L244.2,283.7 L244.6,283.7 L245,283.7 L245.4,283.7 L245.8,283.7 L246.2,283.7 L246.6,283.7 L247,283.7 L247.4,283.7 L247.8,283.7 L248.2,283.7 L248.6,283.7 L249,283.7 L249.4,283.7 L249.8,283.7 L250.2,283.7 L250.6,283.7 L251,283.7 L251.4,283.7 L251.8,283.7 L252.2,283.7 L252.6,283.7 L253,283.7 L253.4,283.7 L253.8,283.7 L254.2,283.7 L254.6,283.7 L255,283.7 L255.4,283.7 L255.8,283.7 L256.2,283.7 L256.6,283.7 L257,283.7 L257.4,283.7 L257.8,283.7 L258.2,283.7 L258.6,283.7 L259,283.7 L259.4,283.7 L259.8,283.7 L260.2,283.7 L260.6,283.7 L261,283.7 L261.4,283.7 L261.8,283.7 L262.2,283.7 L262.6,283.7 L263,283.7 L263.4,283.7 L263.8,283.7 L264.2,283.7 L264.6,283.7 L265,283.7 L265.4,283.7 L265.8,283.7 L266.2,283.7 L266.6,283.7 L267,283.7 L267.4,283.7 L267.8,283.7 L268.2,283.7 L268.6,283.7 L269,283.7 L269.4,283.7 L269.8,283.7 L270.2,283.7 L270.6,283.7 L271,283.7 L271.4,283.7 L271.8,283.7 L272.2,283.7 L272.6,283.7 L273,283.7 L273.4,283.7 L273.8,283.7 L274.2,283.69 L274.6,283.69 L275,283.68 L275.4,283.67 L275.8,283.66 L276.2,283.63 L276.6,283.6 L277,283.56 L277.4,283.5 L277.8,283.43 L278.2,283.33 L278.6,283.22 L279,283.08 L279.4,282.9 L279.8,282.69 L280.2,282.43 L280.6,282.1 L281,281.67 L281.4,281.14 L281.8,280.46 L282.2,279.61 L282.6,278.61 L283,277.47 L283.4,276.28 L283.8,275.1 L284.2,274.05 L284.6,273.23 L285,272.76 L285.4,272.7 L285.8,273.13 L286.2,274.06 L286.6,275.36 L287,276.86 L287.4,278.39 L287.8,279.79 L288.2,280.98 L288.6,281.91 L289,282.58 L289.4,283.04 L289.8,283.33 L290.2,283.5 L290.6,283.6 L291,283.65 L291.4,283.68 L291.8,283.69 L292.2,283.7 L292.6,283.7 L293,283.7 L293.4,283.7 L293.8,283.7 L294.2,283.7 L294.6,283.7 L295,283.7 L295.4,283.7 L295.8,283.7 L296.2,283.7 L296.6,283.7 L297,283.7 L297.4,283.7 L297.8,283.7 L298.2,283.7 L298.6,283.7 L299,283.7 L299.4,283.7 L299.8,283.7 L300.2,283.7 L300.6,283.7 L301,283.7 L301.4,283.7 L301.8,283.7 L302.2,283.7 L302.6,283.7 L303,283.7 L303.4,283.7 L303.8,283.7 L304.2,283.7 L304.6,283.7 L305,283.7 L305.4,283.7 L305.8,283.7 L306.2,283.7 L306.6,283.7 L307,283.7 L307.4,283.7 Z" fill="#e8a0ae" stroke="#d22e4f" stroke-width="1.15"/>
<path d="M245.5,295.4 Q254,286 259.6,284.2 Q262.5,287 266.1,295.4" fill="#7fb9a3" stroke="#1b6b50" stroke-width="1.15"/>
<text x="311.2" y="233.4" font-size="8.9" text-anchor="start" font-weight="normal" fill="#231f20" textLength="28.8" lengthAdjust="spacingAndGlyphs" stroke="#231f20" stroke-width="0.2">OCI-Ly1</text>
<text x="311.2" y="245.4" font-size="8.9" text-anchor="start" font-weight="normal" fill="#231f20" textLength="35.4" lengthAdjust="spacingAndGlyphs" stroke="#231f20" stroke-width="0.2">SU-DHL-5</text>
<text x="311.2" y="257.4" font-size="8.9" text-anchor="start" font-weight="normal" fill="#231f20" textLength="29.5" lengthAdjust="spacingAndGlyphs" stroke="#231f20" stroke-width="0.2">OCI-Ly8</text>
<text x="311.2" y="269.5" font-size="8.9" text-anchor="start" font-weight="normal" fill="#231f20" textLength="24.1" lengthAdjust="spacingAndGlyphs" stroke="#231f20" stroke-width="0.2">Nalm6</text>
<text x="311.2" y="281.2" font-size="8.9" text-anchor="start" font-weight="normal" fill="#231f20" textLength="16.6" lengthAdjust="spacingAndGlyphs" stroke="#231f20" stroke-width="0.2">SEM</text>
<text x="311.2" y="292.3" font-size="8.9" text-anchor="start" font-weight="normal" fill="#231f20" textLength="26.3" lengthAdjust="spacingAndGlyphs" stroke="#231f20" stroke-width="0.2">Isotype</text>
<text x="363.7" y="197.7" font-size="11" text-anchor="start" font-weight="bold" fill="#000" textLength="8" lengthAdjust="spacingAndGlyphs" stroke="#000" stroke-width="0.55">D</text>
<text x="400.6" y="197.5" font-size="10.4" text-anchor="start" font-weight="normal" fill="#231f20" textLength="51.6" lengthAdjust="spacingAndGlyphs" stroke="#231f20" stroke-width="0.2">Proliferation</text>
<line x1="393.8" y1="258.5" x2="461.5" y2="258.5" stroke="#9a9a9a" stroke-width="1" stroke-dasharray="1.2,0.8"/>
<line x1="393.5" y1="212.3" x2="393.5" y2="300.3" stroke="#231f20" stroke-width="1.3"/>
<line x1="390.4" y1="299.5" x2="393.4" y2="299.5" stroke="#231f20" stroke-width="1"/>
<text x="388" y="302.65" font-size="8.3" text-anchor="end" font-weight="normal" fill="#231f20" textLength="11.31" lengthAdjust="spacingAndGlyphs" stroke="#231f20" stroke-width="0.2">0.0</text>
<line x1="390.4" y1="278.5" x2="393.4" y2="278.5" stroke="#231f20" stroke-width="1"/>
<text x="388" y="281.85" font-size="8.3" text-anchor="end" font-weight="normal" fill="#231f20" textLength="11.31" lengthAdjust="spacingAndGlyphs" stroke="#231f20" stroke-width="0.2">0.5</text>
<line x1="390.4" y1="258.5" x2="393.4" y2="258.5" stroke="#231f20" stroke-width="1"/>
<text x="388" y="261.05" font-size="8.3" text-anchor="end" font-weight="normal" fill="#231f20" textLength="11.31" lengthAdjust="spacingAndGlyphs" stroke="#231f20" stroke-width="0.2">1.0</text>
<line x1="390.4" y1="237.5" x2="393.4" y2="237.5" stroke="#231f20" stroke-width="1"/>
<text x="388" y="240.25" font-size="8.3" text-anchor="end" font-weight="normal" fill="#231f20" textLength="11.31" lengthAdjust="spacingAndGlyphs" stroke="#231f20" stroke-width="0.2">1.5</text>
<line x1="390.4" y1="216.5" x2="393.4" y2="216.5" stroke="#231f20" stroke-width="1"/>
<text x="388" y="219.45" font-size="8.3" text-anchor="end" font-weight="normal" fill="#231f20" textLength="11.31" lengthAdjust="spacingAndGlyphs" stroke="#231f20" stroke-width="0.2">2.0</text>
<line x1="392.8" y1="299.5" x2="460.5" y2="299.5" stroke="#231f20" stroke-width="1.3"/>
<line x1="402.5" y1="299.7" x2="402.5" y2="302.2" stroke="#231f20" stroke-width="1"/>
<line x1="427.5" y1="299.7" x2="427.5" y2="302.2" stroke="#231f20" stroke-width="1"/>
<line x1="451.5" y1="299.7" x2="451.5" y2="302.2" stroke="#231f20" stroke-width="1"/>
<text x="402.6" y="312.5" font-size="8.4" text-anchor="middle" font-weight="normal" fill="#231f20" textLength="10.51" lengthAdjust="spacingAndGlyphs" stroke="#231f20" stroke-width="0.2">1:1</text>
<text x="427.4" y="312.5" font-size="8.4" text-anchor="middle" font-weight="normal" fill="#231f20" textLength="10.51" lengthAdjust="spacingAndGlyphs" stroke="#231f20" stroke-width="0.2">1:5</text>
<text x="451.9" y="312.5" font-size="8.4" text-anchor="middle" font-weight="normal" fill="#231f20" textLength="14.71" lengthAdjust="spacingAndGlyphs" stroke="#231f20" stroke-width="0.2">1:10</text>
<text x="413.6" y="325.1" font-size="10" text-anchor="start" font-weight="normal" fill="#231f20" textLength="26.8" lengthAdjust="spacingAndGlyphs" stroke="#231f20" stroke-width="0.2">E:T ratio</text>
<text transform="translate(369.9,258.25) rotate(-90)" x="0" y="0" font-size="9.4" text-anchor="middle" fill="#231f20" stroke="#231f20" stroke-width="0.22" textLength="60.3" lengthAdjust="spacingAndGlyphs">CD2<tspan font-size="5.5" dy="-3">+</tspan><tspan dy="3"> fold change</tspan></text>
<line x1="402.5" y1="230.14" x2="402.5" y2="236.55" stroke="#3a3a3a" stroke-width="1.1"/>
<line x1="399.3" y1="230.5" x2="405.3" y2="230.5" stroke="#3a3a3a" stroke-width="1.1"/>
<line x1="399.3" y1="236.5" x2="405.3" y2="236.5" stroke="#3a3a3a" stroke-width="1.1"/>
<line x1="451.5" y1="228.48" x2="451.5" y2="240.71" stroke="#3a3a3a" stroke-width="1.1"/>
<line x1="448.6" y1="228.5" x2="454.6" y2="228.5" stroke="#3a3a3a" stroke-width="1.1"/>
<line x1="448.6" y1="240.5" x2="454.6" y2="240.5" stroke="#3a3a3a" stroke-width="1.1"/>
<polyline points="402.3,233.35 427.1,225.44 451.6,234.35" fill="none" stroke="#c8102e" stroke-width="1.4"/>
<circle cx="402.3" cy="233.35" r="2.3" fill="#c8102e"/>
<circle cx="427.1" cy="225.44" r="2.3" fill="#c8102e"/>
<circle cx="451.6" cy="234.35" r="2.3" fill="#c8102e"/>
<polyline points="402.3,266.42 427.1,266.42 451.6,262.26" fill="none" stroke="#165089" stroke-width="1.4"/>
<circle cx="402.3" cy="266.42" r="2.3" fill="#165089"/>
<circle cx="427.1" cy="266.42" r="2.3" fill="#165089"/>
<circle cx="451.6" cy="262.26" r="2.3" fill="#165089"/>
<line x1="467.2" y1="215.5" x2="477.9" y2="215.5" stroke="#c8102e" stroke-width="1.4"/>
<circle cx="472.5" cy="215.4" r="2.2" fill="#c8102e"/>
<text x="481.1" y="218" font-size="8.2" text-anchor="start" font-weight="normal" fill="#231f20" textLength="32.2" lengthAdjust="spacingAndGlyphs" stroke="#231f20" stroke-width="0.2">AMG 562</text>
<line x1="467.2" y1="225.5" x2="477.9" y2="225.5" stroke="#165089" stroke-width="1.4"/>
<circle cx="472.5" cy="225.8" r="2.2" fill="#165089"/>
<text x="481.1" y="228.4" font-size="8.2" text-anchor="start" font-weight="normal" fill="#231f20" textLength="18.3" lengthAdjust="spacingAndGlyphs" stroke="#231f20" stroke-width="0.2">cBiTE</text>
<text x="7.5" y="347.5" font-size="11" text-anchor="start" font-weight="bold" fill="#000" textLength="6.5" lengthAdjust="spacingAndGlyphs" stroke="#000" stroke-width="0.55">E</text>
<text x="92.3" y="348.2" font-size="10.4" text-anchor="start" font-weight="normal" fill="#231f20" textLength="72.9" lengthAdjust="spacingAndGlyphs" stroke="#231f20" stroke-width="0.2">CD69 expression</text>
<text x="246.4" y="348.3" font-size="11" text-anchor="start" font-weight="bold" fill="#000" textLength="6.2" lengthAdjust="spacingAndGlyphs" stroke="#000" stroke-width="0.55">F</text>
<text x="335.3" y="348" font-size="10.4" text-anchor="start" font-weight="normal" fill="#231f20" textLength="70.2" lengthAdjust="spacingAndGlyphs" stroke="#231f20" stroke-width="0.2">PD-1 expression</text>
<line x1="38.5" y1="361.3" x2="38.5" y2="449.3" stroke="#231f20" stroke-width="1.3"/>
<line x1="35.7" y1="448.5" x2="38.7" y2="448.5" stroke="#231f20" stroke-width="1"/>
<text x="33" y="451.65" font-size="8.3" text-anchor="end" font-weight="normal" fill="#231f20" textLength="4.52" lengthAdjust="spacingAndGlyphs" stroke="#231f20" stroke-width="0.2">0</text>
<line x1="35.7" y1="427.5" x2="38.7" y2="427.5" stroke="#231f20" stroke-width="1"/>
<text x="33" y="430.7" font-size="8.3" text-anchor="end" font-weight="normal" fill="#231f20" textLength="9.05" lengthAdjust="spacingAndGlyphs" stroke="#231f20" stroke-width="0.2">25</text>
<line x1="35.7" y1="406.5" x2="38.7" y2="406.5" stroke="#231f20" stroke-width="1"/>
<text x="33" y="409.75" font-size="8.3" text-anchor="end" font-weight="normal" fill="#231f20" textLength="9.05" lengthAdjust="spacingAndGlyphs" stroke="#231f20" stroke-width="0.2">50</text>
<line x1="35.7" y1="385.5" x2="38.7" y2="385.5" stroke="#231f20" stroke-width="1"/>
<text x="33" y="388.8" font-size="8.3" text-anchor="end" font-weight="normal" fill="#231f20" textLength="9.05" lengthAdjust="spacingAndGlyphs" stroke="#231f20" stroke-width="0.2">75</text>
<line x1="35.7" y1="364.5" x2="38.7" y2="364.5" stroke="#231f20" stroke-width="1"/>
<text x="33" y="367.85" font-size="8.3" text-anchor="end" font-weight="normal" fill="#231f20" textLength="13.57" lengthAdjust="spacingAndGlyphs" stroke="#231f20" stroke-width="0.2">100</text>
<line x1="38.1" y1="448.5" x2="105.8" y2="448.5" stroke="#231f20" stroke-width="1.3"/>
<line x1="48.5" y1="448.7" x2="48.5" y2="451.2" stroke="#231f20" stroke-width="1"/>
<line x1="72.5" y1="448.7" x2="72.5" y2="451.2" stroke="#231f20" stroke-width="1"/>
<line x1="96.5" y1="448.7" x2="96.5" y2="451.2" stroke="#231f20" stroke-width="1"/>
<text x="48.5" y="461.2" font-size="8.4" text-anchor="middle" font-weight="normal" fill="#231f20" textLength="10.51" lengthAdjust="spacingAndGlyphs" stroke="#231f20" stroke-width="0.2">1:1</text>
<text x="72.7" y="461.2" font-size="8.4" text-anchor="middle" font-weight="normal" fill="#231f20" textLength="10.51" lengthAdjust="spacingAndGlyphs" stroke="#231f20" stroke-width="0.2">1:5</text>
<text x="97.2" y="461.2" font-size="8.4" text-anchor="middle" font-weight="normal" fill="#231f20" textLength="14.71" lengthAdjust="spacingAndGlyphs" stroke="#231f20" stroke-width="0.2">1:10</text>
<text transform="translate(14,407.3) rotate(-90)" x="0" y="0" font-size="10.3" text-anchor="middle" font-weight="normal" fill="#231f20" textLength="30.8" lengthAdjust="spacingAndGlyphs" stroke="#231f20" stroke-width="0.2">% of CD4</text>
<line x1="48.5" y1="382.08" x2="48.5" y2="388.36" stroke="#3a3a3a" stroke-width="1.1"/>
<line x1="45.2" y1="382.5" x2="51.2" y2="382.5" stroke="#3a3a3a" stroke-width="1.1"/>
<line x1="45.2" y1="388.5" x2="51.2" y2="388.5" stroke="#3a3a3a" stroke-width="1.1"/>
<polyline points="48.2,385.18 72.4,374.62 96.9,377.13" fill="none" stroke="#c8102e" stroke-width="1.4"/>
<circle cx="48.2" cy="385.18" r="2.3" fill="#c8102e"/>
<circle cx="72.4" cy="374.62" r="2.3" fill="#c8102e"/>
<circle cx="96.9" cy="377.13" r="2.3" fill="#c8102e"/>
<polyline points="48.2,447.69 72.4,447.69 96.9,447.69" fill="none" stroke="#165089" stroke-width="1.4"/>
<circle cx="48.2" cy="447.69" r="2.3" fill="#165089"/>
<circle cx="72.4" cy="447.69" r="2.3" fill="#165089"/>
<circle cx="96.9" cy="447.69" r="2.3" fill="#165089"/>
<line x1="151.5" y1="361.2" x2="151.5" y2="449.4" stroke="#231f20" stroke-width="1.3"/>
<line x1="148.8" y1="448.5" x2="151.8" y2="448.5" stroke="#231f20" stroke-width="1"/>
<text x="146.1" y="451.75" font-size="8.3" text-anchor="end" font-weight="normal" fill="#231f20" textLength="4.52" lengthAdjust="spacingAndGlyphs" stroke="#231f20" stroke-width="0.2">0</text>
<line x1="148.8" y1="427.5" x2="151.8" y2="427.5" stroke="#231f20" stroke-width="1"/>
<text x="146.1" y="430.85" font-size="8.3" text-anchor="end" font-weight="normal" fill="#231f20" textLength="9.05" lengthAdjust="spacingAndGlyphs" stroke="#231f20" stroke-width="0.2">25</text>
<line x1="148.8" y1="407.5" x2="151.8" y2="407.5" stroke="#231f20" stroke-width="1"/>
<text x="146.1" y="409.95" font-size="8.3" text-anchor="end" font-weight="normal" fill="#231f20" textLength="9.05" lengthAdjust="spacingAndGlyphs" stroke="#231f20" stroke-width="0.2">50</text>
<line x1="148.8" y1="386.5" x2="151.8" y2="386.5" stroke="#231f20" stroke-width="1"/>
<text x="146.1" y="389.05" font-size="8.3" text-anchor="end" font-weight="normal" fill="#231f20" textLength="9.05" lengthAdjust="spacingAndGlyphs" stroke="#231f20" stroke-width="0.2">75</text>
<line x1="148.8" y1="365.5" x2="151.8" y2="365.5" stroke="#231f20" stroke-width="1"/>
<text x="146.1" y="368.15" font-size="8.3" text-anchor="end" font-weight="normal" fill="#231f20" textLength="13.57" lengthAdjust="spacingAndGlyphs" stroke="#231f20" stroke-width="0.2">100</text>
<line x1="151.2" y1="448.5" x2="219" y2="448.5" stroke="#231f20" stroke-width="1.3"/>
<line x1="160.5" y1="448.8" x2="160.5" y2="451.3" stroke="#231f20" stroke-width="1"/>
<line x1="185.5" y1="448.8" x2="185.5" y2="451.3" stroke="#231f20" stroke-width="1"/>
<line x1="209.5" y1="448.8" x2="209.5" y2="451.3" stroke="#231f20" stroke-width="1"/>
<text x="160.8" y="461.3" font-size="8.4" text-anchor="middle" font-weight="normal" fill="#231f20" textLength="10.51" lengthAdjust="spacingAndGlyphs" stroke="#231f20" stroke-width="0.2">1:1</text>
<text x="185.3" y="461.3" font-size="8.4" text-anchor="middle" font-weight="normal" fill="#231f20" textLength="10.51" lengthAdjust="spacingAndGlyphs" stroke="#231f20" stroke-width="0.2">1:5</text>
<text x="209.8" y="461.3" font-size="8.4" text-anchor="middle" font-weight="normal" fill="#231f20" textLength="14.71" lengthAdjust="spacingAndGlyphs" stroke="#231f20" stroke-width="0.2">1:10</text>
<text transform="translate(127,407.45) rotate(-90)" x="0" y="0" font-size="10.3" text-anchor="middle" font-weight="normal" fill="#231f20" textLength="31.7" lengthAdjust="spacingAndGlyphs" stroke="#231f20" stroke-width="0.2">% of CD8</text>
<line x1="160.5" y1="391.12" x2="160.5" y2="401.15" stroke="#3a3a3a" stroke-width="1.1"/>
<line x1="157.5" y1="391.5" x2="163.5" y2="391.5" stroke="#3a3a3a" stroke-width="1.1"/>
<line x1="157.5" y1="401.5" x2="163.5" y2="401.5" stroke="#3a3a3a" stroke-width="1.1"/>
<line x1="185.5" y1="387.77" x2="185.5" y2="393.62" stroke="#3a3a3a" stroke-width="1.1"/>
<line x1="182" y1="387.5" x2="188" y2="387.5" stroke="#3a3a3a" stroke-width="1.1"/>
<line x1="182" y1="393.5" x2="188" y2="393.5" stroke="#3a3a3a" stroke-width="1.1"/>
<line x1="209.5" y1="388.61" x2="209.5" y2="392.79" stroke="#3a3a3a" stroke-width="1.1"/>
<line x1="206.5" y1="388.5" x2="212.5" y2="388.5" stroke="#3a3a3a" stroke-width="1.1"/>
<line x1="206.5" y1="392.5" x2="212.5" y2="392.5" stroke="#3a3a3a" stroke-width="1.1"/>
<polyline points="160.5,396.55 185,390.7 209.5,390.7" fill="none" stroke="#c8102e" stroke-width="1.4"/>
<circle cx="160.5" cy="396.55" r="2.3" fill="#c8102e"/>
<circle cx="185" cy="390.7" r="2.3" fill="#c8102e"/>
<circle cx="209.5" cy="390.7" r="2.3" fill="#c8102e"/>
<polyline points="160.5,447.8 185,447.8 209.5,447.8" fill="none" stroke="#165089" stroke-width="1.4"/>
<circle cx="160.5" cy="447.8" r="2.3" fill="#165089"/>
<circle cx="185" cy="447.8" r="2.3" fill="#165089"/>
<circle cx="209.5" cy="447.8" r="2.3" fill="#165089"/>
<line x1="280.5" y1="360.3" x2="280.5" y2="448.9" stroke="#231f20" stroke-width="1.3"/>
<line x1="277.4" y1="448.5" x2="280.4" y2="448.5" stroke="#231f20" stroke-width="1"/>
<text x="274.7" y="451.25" font-size="8.3" text-anchor="end" font-weight="normal" fill="#231f20" textLength="4.52" lengthAdjust="spacingAndGlyphs" stroke="#231f20" stroke-width="0.2">0</text>
<line x1="277.4" y1="427.5" x2="280.4" y2="427.5" stroke="#231f20" stroke-width="1"/>
<text x="274.7" y="430.32" font-size="8.3" text-anchor="end" font-weight="normal" fill="#231f20" textLength="9.05" lengthAdjust="spacingAndGlyphs" stroke="#231f20" stroke-width="0.2">25</text>
<line x1="277.4" y1="406.5" x2="280.4" y2="406.5" stroke="#231f20" stroke-width="1"/>
<text x="274.7" y="409.4" font-size="8.3" text-anchor="end" font-weight="normal" fill="#231f20" textLength="9.05" lengthAdjust="spacingAndGlyphs" stroke="#231f20" stroke-width="0.2">50</text>
<line x1="277.4" y1="385.5" x2="280.4" y2="385.5" stroke="#231f20" stroke-width="1"/>
<text x="274.7" y="388.48" font-size="8.3" text-anchor="end" font-weight="normal" fill="#231f20" textLength="9.05" lengthAdjust="spacingAndGlyphs" stroke="#231f20" stroke-width="0.2">75</text>
<line x1="277.4" y1="364.5" x2="280.4" y2="364.5" stroke="#231f20" stroke-width="1"/>
<text x="274.7" y="367.55" font-size="8.3" text-anchor="end" font-weight="normal" fill="#231f20" textLength="13.57" lengthAdjust="spacingAndGlyphs" stroke="#231f20" stroke-width="0.2">100</text>
<line x1="279.8" y1="448.5" x2="348.2" y2="448.5" stroke="#231f20" stroke-width="1.3"/>
<line x1="289.5" y1="448.3" x2="289.5" y2="450.8" stroke="#231f20" stroke-width="1"/>
<line x1="314.5" y1="448.3" x2="314.5" y2="450.8" stroke="#231f20" stroke-width="1"/>
<line x1="338.5" y1="448.3" x2="338.5" y2="450.8" stroke="#231f20" stroke-width="1"/>
<text x="289.9" y="460.8" font-size="8.4" text-anchor="middle" font-weight="normal" fill="#231f20" textLength="10.51" lengthAdjust="spacingAndGlyphs" stroke="#231f20" stroke-width="0.2">1:1</text>
<text x="314.7" y="460.8" font-size="8.4" text-anchor="middle" font-weight="normal" fill="#231f20" textLength="10.51" lengthAdjust="spacingAndGlyphs" stroke="#231f20" stroke-width="0.2">1:5</text>
<text x="339.2" y="460.8" font-size="8.4" text-anchor="middle" font-weight="normal" fill="#231f20" textLength="14.71" lengthAdjust="spacingAndGlyphs" stroke="#231f20" stroke-width="0.2">1:10</text>
<text transform="translate(256.1,406.9) rotate(-90)" x="0" y="0" font-size="10.3" text-anchor="middle" font-weight="normal" fill="#231f20" textLength="30.6" lengthAdjust="spacingAndGlyphs" stroke="#231f20" stroke-width="0.2">% of CD4</text>
<line x1="289.5" y1="377.16" x2="289.5" y2="383.01" stroke="#3a3a3a" stroke-width="1.1"/>
<line x1="286.6" y1="377.5" x2="292.6" y2="377.5" stroke="#3a3a3a" stroke-width="1.1"/>
<line x1="286.6" y1="383.5" x2="292.6" y2="383.5" stroke="#3a3a3a" stroke-width="1.1"/>
<polyline points="289.6,380.5 314.4,367.95 338.9,368.79" fill="none" stroke="#c8102e" stroke-width="1.4"/>
<circle cx="289.6" cy="380.5" r="2.3" fill="#c8102e"/>
<circle cx="314.4" cy="367.95" r="2.3" fill="#c8102e"/>
<circle cx="338.9" cy="368.79" r="2.3" fill="#c8102e"/>
<line x1="289.5" y1="441.6" x2="289.5" y2="447.46" stroke="#3a3a3a" stroke-width="1.1"/>
<line x1="286.6" y1="441.5" x2="292.6" y2="441.5" stroke="#3a3a3a" stroke-width="1.1"/>
<line x1="286.6" y1="447.5" x2="292.6" y2="447.5" stroke="#3a3a3a" stroke-width="1.1"/>
<line x1="314.5" y1="439.09" x2="314.5" y2="446.63" stroke="#3a3a3a" stroke-width="1.1"/>
<line x1="311.4" y1="439.5" x2="317.4" y2="439.5" stroke="#3a3a3a" stroke-width="1.1"/>
<line x1="311.4" y1="446.5" x2="317.4" y2="446.5" stroke="#3a3a3a" stroke-width="1.1"/>
<polyline points="289.6,444.12 314.4,442.86 338.9,444.95" fill="none" stroke="#165089" stroke-width="1.4"/>
<circle cx="289.6" cy="444.12" r="2.3" fill="#165089"/>
<circle cx="314.4" cy="442.86" r="2.3" fill="#165089"/>
<circle cx="338.9" cy="444.95" r="2.3" fill="#165089"/>
<line x1="393.5" y1="360.3" x2="393.5" y2="448.9" stroke="#231f20" stroke-width="1.3"/>
<line x1="390.1" y1="448.5" x2="393.1" y2="448.5" stroke="#231f20" stroke-width="1"/>
<text x="387.4" y="451.25" font-size="8.3" text-anchor="end" font-weight="normal" fill="#231f20" textLength="4.52" lengthAdjust="spacingAndGlyphs" stroke="#231f20" stroke-width="0.2">0</text>
<line x1="390.1" y1="427.5" x2="393.1" y2="427.5" stroke="#231f20" stroke-width="1"/>
<text x="387.4" y="430.32" font-size="8.3" text-anchor="end" font-weight="normal" fill="#231f20" textLength="9.05" lengthAdjust="spacingAndGlyphs" stroke="#231f20" stroke-width="0.2">25</text>
<line x1="390.1" y1="406.5" x2="393.1" y2="406.5" stroke="#231f20" stroke-width="1"/>
<text x="387.4" y="409.4" font-size="8.3" text-anchor="end" font-weight="normal" fill="#231f20" textLength="9.05" lengthAdjust="spacingAndGlyphs" stroke="#231f20" stroke-width="0.2">50</text>
<line x1="390.1" y1="385.5" x2="393.1" y2="385.5" stroke="#231f20" stroke-width="1"/>
<text x="387.4" y="388.48" font-size="8.3" text-anchor="end" font-weight="normal" fill="#231f20" textLength="9.05" lengthAdjust="spacingAndGlyphs" stroke="#231f20" stroke-width="0.2">75</text>
<line x1="390.1" y1="364.5" x2="393.1" y2="364.5" stroke="#231f20" stroke-width="1"/>
<text x="387.4" y="367.55" font-size="8.3" text-anchor="end" font-weight="normal" fill="#231f20" textLength="13.57" lengthAdjust="spacingAndGlyphs" stroke="#231f20" stroke-width="0.2">100</text>
<line x1="392.5" y1="448.5" x2="460.9" y2="448.5" stroke="#231f20" stroke-width="1.3"/>
<line x1="402.5" y1="448.3" x2="402.5" y2="450.8" stroke="#231f20" stroke-width="1"/>
<line x1="427.5" y1="448.3" x2="427.5" y2="450.8" stroke="#231f20" stroke-width="1"/>
<line x1="451.5" y1="448.3" x2="451.5" y2="450.8" stroke="#231f20" stroke-width="1"/>
<text x="402.6" y="460.8" font-size="8.4" text-anchor="middle" font-weight="normal" fill="#231f20" textLength="10.51" lengthAdjust="spacingAndGlyphs" stroke="#231f20" stroke-width="0.2">1:1</text>
<text x="427.4" y="460.8" font-size="8.4" text-anchor="middle" font-weight="normal" fill="#231f20" textLength="10.51" lengthAdjust="spacingAndGlyphs" stroke="#231f20" stroke-width="0.2">1:5</text>
<text x="451.9" y="460.8" font-size="8.4" text-anchor="middle" font-weight="normal" fill="#231f20" textLength="14.71" lengthAdjust="spacingAndGlyphs" stroke="#231f20" stroke-width="0.2">1:10</text>
<text transform="translate(369,407.05) rotate(-90)" x="0" y="0" font-size="10.3" text-anchor="middle" font-weight="normal" fill="#231f20" textLength="30.9" lengthAdjust="spacingAndGlyphs" stroke="#231f20" stroke-width="0.2">% of CD8</text>
<polyline points="402.3,400.17 427.1,379.67 451.6,378.83" fill="none" stroke="#c8102e" stroke-width="1.4"/>
<circle cx="402.3" cy="400.17" r="2.3" fill="#c8102e"/>
<circle cx="427.1" cy="379.67" r="2.3" fill="#c8102e"/>
<circle cx="451.6" cy="378.83" r="2.3" fill="#c8102e"/>
<line x1="402.5" y1="428.21" x2="402.5" y2="442.44" stroke="#3a3a3a" stroke-width="1.1"/>
<line x1="399.3" y1="428.5" x2="405.3" y2="428.5" stroke="#3a3a3a" stroke-width="1.1"/>
<line x1="399.3" y1="442.5" x2="405.3" y2="442.5" stroke="#3a3a3a" stroke-width="1.1"/>
<line x1="427.5" y1="424.86" x2="427.5" y2="438.26" stroke="#3a3a3a" stroke-width="1.1"/>
<line x1="424.1" y1="424.5" x2="430.1" y2="424.5" stroke="#3a3a3a" stroke-width="1.1"/>
<line x1="424.1" y1="438.5" x2="430.1" y2="438.5" stroke="#3a3a3a" stroke-width="1.1"/>
<line x1="451.5" y1="435.75" x2="451.5" y2="441.6" stroke="#3a3a3a" stroke-width="1.1"/>
<line x1="448.6" y1="435.5" x2="454.6" y2="435.5" stroke="#3a3a3a" stroke-width="1.1"/>
<line x1="448.6" y1="441.5" x2="454.6" y2="441.5" stroke="#3a3a3a" stroke-width="1.1"/>
<polyline points="402.3,435.75 427.1,431.56 451.6,438.67" fill="none" stroke="#165089" stroke-width="1.4"/>
<circle cx="402.3" cy="435.75" r="2.3" fill="#165089"/>
<circle cx="427.1" cy="431.56" r="2.3" fill="#165089"/>
<circle cx="451.6" cy="438.67" r="2.3" fill="#165089"/>
<line x1="467.2" y1="364.5" x2="477.9" y2="364.5" stroke="#c8102e" stroke-width="1.4"/>
<circle cx="472.5" cy="364" r="2.2" fill="#c8102e"/>
<text x="481.1" y="366.6" font-size="8.2" text-anchor="start" font-weight="normal" fill="#231f20" textLength="32.2" lengthAdjust="spacingAndGlyphs" stroke="#231f20" stroke-width="0.2">AMG 562</text>
<line x1="467.2" y1="374.5" x2="477.9" y2="374.5" stroke="#165089" stroke-width="1.4"/>
<circle cx="472.5" cy="374.7" r="2.2" fill="#165089"/>
<text x="481.1" y="377.3" font-size="8.2" text-anchor="start" font-weight="normal" fill="#231f20" textLength="18.3" lengthAdjust="spacingAndGlyphs" stroke="#231f20" stroke-width="0.2">cBiTE</text>
<text x="59" y="474.5" font-size="10" text-anchor="start" font-weight="normal" fill="#231f20" textLength="26.4" lengthAdjust="spacingAndGlyphs" stroke="#231f20" stroke-width="0.2">E:T ratio</text>
<path d="M89,471.9 H219.2" fill="none" stroke="#4a4a4a" stroke-width="1.3"/>
<text x="300.4" y="474.8" font-size="10" text-anchor="start" font-weight="normal" fill="#231f20" textLength="27.1" lengthAdjust="spacingAndGlyphs" stroke="#231f20" stroke-width="0.2">E:T ratio</text>
<path d="M331.7,471.9 H460.9" fill="none" stroke="#4a4a4a" stroke-width="1.3"/>
<text x="7.3" y="501.8" font-size="11" text-anchor="start" font-weight="bold" fill="#000" textLength="8" lengthAdjust="spacingAndGlyphs" stroke="#000" stroke-width="0.55">G</text>
<text x="60" y="501.2" font-size="10.6" text-anchor="start" font-weight="normal" fill="#231f20" textLength="23.8" lengthAdjust="spacingAndGlyphs" stroke="#231f20" stroke-width="0.2">CD19</text>
<line x1="38.5" y1="509.2" x2="38.5" y2="595.7" stroke="#231f20" stroke-width="1.3"/>
<line x1="35.7" y1="595.5" x2="38.7" y2="595.5" stroke="#231f20" stroke-width="1"/>
<text x="33.3" y="598.05" font-size="8.3" text-anchor="end" font-weight="normal" fill="#231f20" textLength="4.52" lengthAdjust="spacingAndGlyphs" stroke="#231f20" stroke-width="0.2">0</text>
<line x1="35.7" y1="574.5" x2="38.7" y2="574.5" stroke="#231f20" stroke-width="1"/>
<text x="33.3" y="577.68" font-size="8.3" text-anchor="end" font-weight="normal" fill="#231f20" textLength="9.05" lengthAdjust="spacingAndGlyphs" stroke="#231f20" stroke-width="0.2">25</text>
<line x1="35.7" y1="554.5" x2="38.7" y2="554.5" stroke="#231f20" stroke-width="1"/>
<text x="33.3" y="557.3" font-size="8.3" text-anchor="end" font-weight="normal" fill="#231f20" textLength="9.05" lengthAdjust="spacingAndGlyphs" stroke="#231f20" stroke-width="0.2">50</text>
<line x1="35.7" y1="533.5" x2="38.7" y2="533.5" stroke="#231f20" stroke-width="1"/>
<text x="33.3" y="536.93" font-size="8.3" text-anchor="end" font-weight="normal" fill="#231f20" textLength="9.05" lengthAdjust="spacingAndGlyphs" stroke="#231f20" stroke-width="0.2">75</text>
<line x1="35.7" y1="513.5" x2="38.7" y2="513.5" stroke="#231f20" stroke-width="1"/>
<text x="33.3" y="516.55" font-size="8.3" text-anchor="end" font-weight="normal" fill="#231f20" textLength="13.57" lengthAdjust="spacingAndGlyphs" stroke="#231f20" stroke-width="0.2">100</text>
<line x1="38.1" y1="595.5" x2="105" y2="595.5" stroke="#231f20" stroke-width="1.3"/>
<line x1="54.5" y1="595.1" x2="54.5" y2="597.6" stroke="#231f20" stroke-width="1"/>
<line x1="90.5" y1="595.1" x2="90.5" y2="597.6" stroke="#231f20" stroke-width="1"/>
<text x="54.5" y="607.4" font-size="8.7" text-anchor="middle" font-weight="normal" fill="#231f20" textLength="19" lengthAdjust="spacingAndGlyphs" stroke="#231f20" stroke-width="0.2">pALL</text>
<text x="90.5" y="607.4" font-size="8.7" text-anchor="middle" font-weight="normal" fill="#231f20" textLength="28.6" lengthAdjust="spacingAndGlyphs" stroke="#231f20" stroke-width="0.2">OCI-Ly1</text>
<text transform="translate(14.1,554.4) rotate(-90)" x="0" y="0" font-size="10.2" text-anchor="middle" font-weight="normal" fill="#231f20" textLength="32.8" lengthAdjust="spacingAndGlyphs" stroke="#231f20" stroke-width="0.2">% Positive</text>
<line x1="46.7" y1="514.5" x2="61.3" y2="514.5" stroke="#231f20" stroke-width="1.1"/>
<circle cx="54" cy="513.2" r="1.85" fill="#c8102e"/>
<circle cx="54" cy="515.6" r="1.85" fill="#c8102e"/>
<circle cx="54" cy="518.2" r="1.85" fill="#c8102e"/>
<circle cx="54" cy="523" r="1.85" fill="#c8102e"/>
<circle cx="54" cy="525.6" r="1.85" fill="#c8102e"/>
<line x1="83" y1="514.5" x2="97.9" y2="514.5" stroke="#231f20" stroke-width="1.1"/>
<polygon points="84.9,512.69 82.5,516.87 87.3,516.87" fill="#f7941d"/>
<polygon points="90.4,511.79 88,515.97 92.8,515.97" fill="#f7941d"/>
<polygon points="95.5,512.09 93.1,516.27 97.9,516.27" fill="#f7941d"/>
<text x="170" y="501.2" font-size="10.6" text-anchor="start" font-weight="normal" fill="#231f20" textLength="24.2" lengthAdjust="spacingAndGlyphs" stroke="#231f20" stroke-width="0.2">CD86</text>
<line x1="148.5" y1="509.2" x2="148.5" y2="595.7" stroke="#231f20" stroke-width="1.3"/>
<line x1="145.6" y1="595.5" x2="148.6" y2="595.5" stroke="#231f20" stroke-width="1"/>
<text x="143.2" y="598.05" font-size="8.3" text-anchor="end" font-weight="normal" fill="#231f20" textLength="4.52" lengthAdjust="spacingAndGlyphs" stroke="#231f20" stroke-width="0.2">0</text>
<line x1="145.6" y1="574.5" x2="148.6" y2="574.5" stroke="#231f20" stroke-width="1"/>
<text x="143.2" y="577.68" font-size="8.3" text-anchor="end" font-weight="normal" fill="#231f20" textLength="9.05" lengthAdjust="spacingAndGlyphs" stroke="#231f20" stroke-width="0.2">25</text>
<line x1="145.6" y1="554.5" x2="148.6" y2="554.5" stroke="#231f20" stroke-width="1"/>
<text x="143.2" y="557.3" font-size="8.3" text-anchor="end" font-weight="normal" fill="#231f20" textLength="9.05" lengthAdjust="spacingAndGlyphs" stroke="#231f20" stroke-width="0.2">50</text>
<line x1="145.6" y1="533.5" x2="148.6" y2="533.5" stroke="#231f20" stroke-width="1"/>
<text x="143.2" y="536.93" font-size="8.3" text-anchor="end" font-weight="normal" fill="#231f20" textLength="9.05" lengthAdjust="spacingAndGlyphs" stroke="#231f20" stroke-width="0.2">75</text>
<line x1="145.6" y1="513.5" x2="148.6" y2="513.5" stroke="#231f20" stroke-width="1"/>
<text x="143.2" y="516.55" font-size="8.3" text-anchor="end" font-weight="normal" fill="#231f20" textLength="13.57" lengthAdjust="spacingAndGlyphs" stroke="#231f20" stroke-width="0.2">100</text>
<line x1="148" y1="595.5" x2="215.3" y2="595.5" stroke="#231f20" stroke-width="1.3"/>
<line x1="164.5" y1="595.1" x2="164.5" y2="597.6" stroke="#231f20" stroke-width="1"/>
<line x1="200.5" y1="595.1" x2="200.5" y2="597.6" stroke="#231f20" stroke-width="1"/>
<text x="164.2" y="607.4" font-size="8.7" text-anchor="middle" font-weight="normal" fill="#231f20" textLength="19" lengthAdjust="spacingAndGlyphs" stroke="#231f20" stroke-width="0.2">pALL</text>
<text x="200.3" y="607.4" font-size="8.7" text-anchor="middle" font-weight="normal" fill="#231f20" textLength="28.6" lengthAdjust="spacingAndGlyphs" stroke="#231f20" stroke-width="0.2">OCI-Ly1</text>
<text transform="translate(124.3,554.4) rotate(-90)" x="0" y="0" font-size="10.2" text-anchor="middle" font-weight="normal" fill="#231f20" textLength="32.8" lengthAdjust="spacingAndGlyphs" stroke="#231f20" stroke-width="0.2">% Positive</text>
<circle cx="164.3" cy="514.01" r="1.9" fill="#c8102e"/>
<circle cx="164.3" cy="515.64" r="1.9" fill="#c8102e"/>
<circle cx="164.3" cy="517.27" r="1.9" fill="#c8102e"/>
<circle cx="164.3" cy="519.31" r="1.9" fill="#c8102e"/>
<circle cx="164.3" cy="525.42" r="1.9" fill="#c8102e"/>
<circle cx="164.3" cy="535.61" r="1.9" fill="#c8102e"/>
<circle cx="164.3" cy="537.24" r="1.9" fill="#c8102e"/>
<circle cx="164.3" cy="551.09" r="1.9" fill="#c8102e"/>
<circle cx="164.3" cy="566.98" r="1.9" fill="#c8102e"/>
<circle cx="164.3" cy="575.95" r="1.9" fill="#c8102e"/>
<circle cx="164.3" cy="577.17" r="1.9" fill="#c8102e"/>
<circle cx="164.3" cy="581.65" r="1.9" fill="#c8102e"/>
<circle cx="164.3" cy="583.28" r="1.9" fill="#c8102e"/>
<circle cx="164.3" cy="587.76" r="1.9" fill="#c8102e"/>
<circle cx="164.3" cy="589.39" r="1.9" fill="#c8102e"/>
<circle cx="164.3" cy="591.02" r="1.9" fill="#c8102e"/>
<line x1="157" y1="550.5" x2="172" y2="550.5" stroke="#3a3a3a" stroke-width="1.2"/>
<line x1="164.5" y1="542.94" x2="164.5" y2="557.61" stroke="#3a3a3a" stroke-width="1.2"/>
<line x1="160.15" y1="542.5" x2="168.45" y2="542.5" stroke="#3a3a3a" stroke-width="1.2"/>
<line x1="160.15" y1="557.5" x2="168.45" y2="557.5" stroke="#3a3a3a" stroke-width="1.2"/>
<line x1="193.1" y1="514.5" x2="208.2" y2="514.5" stroke="#231f20" stroke-width="1.1"/>
<polygon points="195.1,512.32 192.7,516.49 197.5,516.49" fill="#f7941d"/>
<polygon points="200.5,512.32 198.1,516.49 202.9,516.49" fill="#f7941d"/>
<polygon points="205.9,512.32 203.5,516.49 208.3,516.49" fill="#f7941d"/>
<text x="279.9" y="501.2" font-size="10.6" text-anchor="start" font-weight="normal" fill="#231f20" textLength="24.2" lengthAdjust="spacingAndGlyphs" stroke="#231f20" stroke-width="0.2">CD80</text>
<line x1="258.5" y1="509.2" x2="258.5" y2="595.7" stroke="#231f20" stroke-width="1.3"/>
<line x1="255.5" y1="595.5" x2="258.5" y2="595.5" stroke="#231f20" stroke-width="1"/>
<text x="253.1" y="598.05" font-size="8.3" text-anchor="end" font-weight="normal" fill="#231f20" textLength="4.52" lengthAdjust="spacingAndGlyphs" stroke="#231f20" stroke-width="0.2">0</text>
<line x1="255.5" y1="574.5" x2="258.5" y2="574.5" stroke="#231f20" stroke-width="1"/>
<text x="253.1" y="577.68" font-size="8.3" text-anchor="end" font-weight="normal" fill="#231f20" textLength="9.05" lengthAdjust="spacingAndGlyphs" stroke="#231f20" stroke-width="0.2">25</text>
<line x1="255.5" y1="554.5" x2="258.5" y2="554.5" stroke="#231f20" stroke-width="1"/>
<text x="253.1" y="557.3" font-size="8.3" text-anchor="end" font-weight="normal" fill="#231f20" textLength="9.05" lengthAdjust="spacingAndGlyphs" stroke="#231f20" stroke-width="0.2">50</text>
<line x1="255.5" y1="533.5" x2="258.5" y2="533.5" stroke="#231f20" stroke-width="1"/>
<text x="253.1" y="536.93" font-size="8.3" text-anchor="end" font-weight="normal" fill="#231f20" textLength="9.05" lengthAdjust="spacingAndGlyphs" stroke="#231f20" stroke-width="0.2">75</text>
<line x1="255.5" y1="513.5" x2="258.5" y2="513.5" stroke="#231f20" stroke-width="1"/>
<text x="253.1" y="516.55" font-size="8.3" text-anchor="end" font-weight="normal" fill="#231f20" textLength="13.57" lengthAdjust="spacingAndGlyphs" stroke="#231f20" stroke-width="0.2">100</text>
<line x1="257.9" y1="595.5" x2="325.8" y2="595.5" stroke="#231f20" stroke-width="1.3"/>
<line x1="274.5" y1="595.1" x2="274.5" y2="597.6" stroke="#231f20" stroke-width="1"/>
<line x1="310.5" y1="595.1" x2="310.5" y2="597.6" stroke="#231f20" stroke-width="1"/>
<text x="274.7" y="607.4" font-size="8.7" text-anchor="middle" font-weight="normal" fill="#231f20" textLength="19" lengthAdjust="spacingAndGlyphs" stroke="#231f20" stroke-width="0.2">pALL</text>
<text x="310.8" y="607.4" font-size="8.7" text-anchor="middle" font-weight="normal" fill="#231f20" textLength="28.6" lengthAdjust="spacingAndGlyphs" stroke="#231f20" stroke-width="0.2">OCI-Ly1</text>
<text transform="translate(235,554.4) rotate(-90)" x="0" y="0" font-size="10.2" text-anchor="middle" font-weight="normal" fill="#231f20" textLength="32.8" lengthAdjust="spacingAndGlyphs" stroke="#231f20" stroke-width="0.2">% Positive</text>
<circle cx="274.7" cy="582.47" r="1.9" fill="#c8102e"/>
<circle cx="268.5" cy="593.88" r="1.9" fill="#c8102e"/>
<circle cx="271" cy="594.28" r="1.9" fill="#c8102e"/>
<circle cx="273.5" cy="594.45" r="1.9" fill="#c8102e"/>
<circle cx="276" cy="594.12" r="1.9" fill="#c8102e"/>
<circle cx="278.5" cy="594.28" r="1.9" fill="#c8102e"/>
<circle cx="281" cy="593.63" r="1.9" fill="#c8102e"/>
<circle cx="270" cy="593.31" r="1.9" fill="#c8102e"/>
<circle cx="277" cy="593.47" r="1.9" fill="#c8102e"/>
<circle cx="280" cy="594.69" r="1.9" fill="#c8102e"/>
<circle cx="272" cy="594.69" r="1.9" fill="#c8102e"/>
<line x1="303.5" y1="592.5" x2="318" y2="592.5" stroke="#8a8a8a" stroke-width="1.1"/>
<line x1="306.9" y1="590.5" x2="315" y2="590.5" stroke="#8a8a8a" stroke-width="1.1"/>
<line x1="310.5" y1="590.8" x2="310.5" y2="597.5" stroke="#444" stroke-width="1"/>
<polygon points="305.4,593.29 303,597.47 307.8,597.47" fill="#f7941d"/>
<polygon points="310.8,587.09 308.4,591.27 313.2,591.27" fill="#f7941d"/>
<polygon points="316.2,593.29 313.8,597.47 318.6,597.47" fill="#f7941d"/>
<text x="390.2" y="501.2" font-size="10.6" text-anchor="start" font-weight="normal" fill="#231f20" textLength="25.2" lengthAdjust="spacingAndGlyphs" stroke="#231f20" stroke-width="0.2">PD-L1</text>
<line x1="369.5" y1="509.2" x2="369.5" y2="595.7" stroke="#231f20" stroke-width="1.3"/>
<line x1="366.8" y1="595.5" x2="369.8" y2="595.5" stroke="#231f20" stroke-width="1"/>
<text x="364.4" y="598.05" font-size="8.3" text-anchor="end" font-weight="normal" fill="#231f20" textLength="4.52" lengthAdjust="spacingAndGlyphs" stroke="#231f20" stroke-width="0.2">0</text>
<line x1="366.8" y1="574.5" x2="369.8" y2="574.5" stroke="#231f20" stroke-width="1"/>
<text x="364.4" y="577.68" font-size="8.3" text-anchor="end" font-weight="normal" fill="#231f20" textLength="9.05" lengthAdjust="spacingAndGlyphs" stroke="#231f20" stroke-width="0.2">25</text>
<line x1="366.8" y1="554.5" x2="369.8" y2="554.5" stroke="#231f20" stroke-width="1"/>
<text x="364.4" y="557.3" font-size="8.3" text-anchor="end" font-weight="normal" fill="#231f20" textLength="9.05" lengthAdjust="spacingAndGlyphs" stroke="#231f20" stroke-width="0.2">50</text>
<line x1="366.8" y1="533.5" x2="369.8" y2="533.5" stroke="#231f20" stroke-width="1"/>
<text x="364.4" y="536.93" font-size="8.3" text-anchor="end" font-weight="normal" fill="#231f20" textLength="9.05" lengthAdjust="spacingAndGlyphs" stroke="#231f20" stroke-width="0.2">75</text>
<line x1="366.8" y1="513.5" x2="369.8" y2="513.5" stroke="#231f20" stroke-width="1"/>
<text x="364.4" y="516.55" font-size="8.3" text-anchor="end" font-weight="normal" fill="#231f20" textLength="13.57" lengthAdjust="spacingAndGlyphs" stroke="#231f20" stroke-width="0.2">100</text>
<line x1="369.2" y1="595.5" x2="435.4" y2="595.5" stroke="#231f20" stroke-width="1.3"/>
<line x1="385.5" y1="595.1" x2="385.5" y2="597.6" stroke="#231f20" stroke-width="1"/>
<line x1="420.5" y1="595.1" x2="420.5" y2="597.6" stroke="#231f20" stroke-width="1"/>
<text x="385.2" y="607.4" font-size="8.7" text-anchor="middle" font-weight="normal" fill="#231f20" textLength="19" lengthAdjust="spacingAndGlyphs" stroke="#231f20" stroke-width="0.2">pALL</text>
<text x="420.9" y="607.4" font-size="8.7" text-anchor="middle" font-weight="normal" fill="#231f20" textLength="28.6" lengthAdjust="spacingAndGlyphs" stroke="#231f20" stroke-width="0.2">OCI-Ly1</text>
<text transform="translate(345,554.4) rotate(-90)" x="0" y="0" font-size="10.2" text-anchor="middle" font-weight="normal" fill="#231f20" textLength="32.8" lengthAdjust="spacingAndGlyphs" stroke="#231f20" stroke-width="0.2">% Positive</text>
<line x1="377.5" y1="591.5" x2="391.5" y2="591.5" stroke="#231f20" stroke-width="1.1"/>
<circle cx="384.75" cy="582.25" r="1.75" fill="#c8102e"/>
<circle cx="385.7" cy="586.4" r="1.75" fill="#c8102e"/>
<circle cx="384.3" cy="588.2" r="1.75" fill="#c8102e"/>
<circle cx="385.8" cy="589.8" r="1.75" fill="#c8102e"/>
<circle cx="380" cy="592" r="1.75" fill="#c8102e"/>
<circle cx="382.6" cy="592.2" r="1.75" fill="#c8102e"/>
<circle cx="388.2" cy="592.2" r="1.75" fill="#c8102e"/>
<circle cx="390.4" cy="592" r="1.75" fill="#c8102e"/>
<circle cx="378.3" cy="593.9" r="1.75" fill="#c8102e"/>
<circle cx="381" cy="594" r="1.75" fill="#c8102e"/>
<circle cx="383.7" cy="593.9" r="1.75" fill="#c8102e"/>
<circle cx="386.4" cy="594" r="1.75" fill="#c8102e"/>
<circle cx="389.1" cy="593.9" r="1.75" fill="#c8102e"/>
<circle cx="391.3" cy="594" r="1.75" fill="#c8102e"/>
<line x1="413.7" y1="589.5" x2="428" y2="589.5" stroke="#231f20" stroke-width="1.1"/>
<line x1="421.5" y1="587.2" x2="421.5" y2="591.6" stroke="#231f20" stroke-width="1"/>
<line x1="417.15" y1="587.5" x2="424.85" y2="587.5" stroke="#231f20" stroke-width="1"/>
<line x1="417.15" y1="591.5" x2="424.85" y2="591.5" stroke="#231f20" stroke-width="1"/>
<polygon points="415.7,585.09 413.3,589.27 418.1,589.27" fill="#f7941d"/>
<polygon points="426.6,586.39 424.2,590.57 429,590.57" fill="#f7941d"/>
<polygon points="421,592.09 418.6,596.27 423.4,596.27" fill="#f7941d"/>
<circle cx="444.6" cy="510.8" r="2.2" fill="#c8102e"/>
<text x="449.6" y="513.3" font-size="8.2" text-anchor="start" font-weight="normal" fill="#231f20" textLength="63.6" lengthAdjust="spacingAndGlyphs" stroke="#231f20" stroke-width="0.2">Primary ALL (n=20)</text>
<polygon points="444.6,518.19 442.1,522.54 447.1,522.54" fill="#f7941d"/>
<text x="449.6" y="523.2" font-size="8.2" text-anchor="start" font-weight="normal" fill="#231f20" textLength="27.6" lengthAdjust="spacingAndGlyphs" stroke="#231f20" stroke-width="0.2">OCI-Ly1</text>
</svg></body></html>
